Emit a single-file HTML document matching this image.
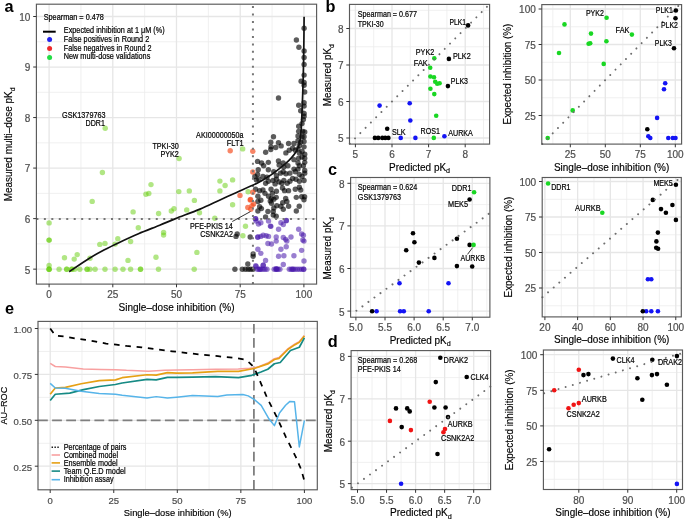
<!DOCTYPE html>
<html><head><meta charset="utf-8"><style>
html,body{margin:0;padding:0;background:#fff;}
svg{display:block;font-family:"Liberation Sans",sans-serif;will-change:transform;}
</style></head><body>
<svg width="685" height="519" viewBox="0 0 685 519">
<rect width="685" height="519" fill="#fff"/>
<text x="4.6" y="11.8" font-size="16.3" text-anchor="start" fill="#000" font-weight="bold">a</text>
<text x="325.4" y="11.8" font-size="16.3" text-anchor="start" fill="#000" font-weight="bold">b</text>
<text x="327.9" y="174.9" font-size="16.3" text-anchor="start" fill="#000" font-weight="bold">c</text>
<text x="327.7" y="346.8" font-size="16.3" text-anchor="start" fill="#000" font-weight="bold">d</text>
<text x="5.1" y="313.5" font-size="16.3" text-anchor="start" fill="#000" font-weight="bold">e</text>
<line x1="80.95" y1="4.2" x2="80.95" y2="284.1" stroke="#ECECEC" stroke-width="0.8"/>
<line x1="144.65" y1="4.2" x2="144.65" y2="284.1" stroke="#ECECEC" stroke-width="0.8"/>
<line x1="208.35" y1="4.2" x2="208.35" y2="284.1" stroke="#ECECEC" stroke-width="0.8"/>
<line x1="272.05" y1="4.2" x2="272.05" y2="284.1" stroke="#ECECEC" stroke-width="0.8"/>
<line x1="36.4" y1="243.88" x2="316.6" y2="243.88" stroke="#ECECEC" stroke-width="0.8"/>
<line x1="36.4" y1="193.35" x2="316.6" y2="193.35" stroke="#ECECEC" stroke-width="0.8"/>
<line x1="36.4" y1="142.82" x2="316.6" y2="142.82" stroke="#ECECEC" stroke-width="0.8"/>
<line x1="36.4" y1="92.29" x2="316.6" y2="92.29" stroke="#ECECEC" stroke-width="0.8"/>
<line x1="36.4" y1="41.76" x2="316.6" y2="41.76" stroke="#ECECEC" stroke-width="0.8"/>
<line x1="49.1" y1="4.2" x2="49.1" y2="284.1" stroke="#E6E6E6" stroke-width="1.3"/>
<line x1="112.8" y1="4.2" x2="112.8" y2="284.1" stroke="#E6E6E6" stroke-width="1.3"/>
<line x1="176.5" y1="4.2" x2="176.5" y2="284.1" stroke="#E6E6E6" stroke-width="1.3"/>
<line x1="240.2" y1="4.2" x2="240.2" y2="284.1" stroke="#E6E6E6" stroke-width="1.3"/>
<line x1="303.9" y1="4.2" x2="303.9" y2="284.1" stroke="#E6E6E6" stroke-width="1.3"/>
<line x1="36.4" y1="269.15" x2="316.6" y2="269.15" stroke="#E6E6E6" stroke-width="1.3"/>
<line x1="36.4" y1="218.62" x2="316.6" y2="218.62" stroke="#E6E6E6" stroke-width="1.3"/>
<line x1="36.4" y1="168.09" x2="316.6" y2="168.09" stroke="#E6E6E6" stroke-width="1.3"/>
<line x1="36.4" y1="117.56" x2="316.6" y2="117.56" stroke="#E6E6E6" stroke-width="1.3"/>
<line x1="36.4" y1="67.03" x2="316.6" y2="67.03" stroke="#E6E6E6" stroke-width="1.3"/>
<line x1="36.4" y1="16.5" x2="316.6" y2="16.5" stroke="#E6E6E6" stroke-width="1.3"/>
<circle cx="49.1" cy="222.9" r="2.7" fill="rgb(100,205,10)" fill-opacity="0.5"/>
<circle cx="49.1" cy="240.1" r="2.7" fill="rgb(100,205,10)" fill-opacity="0.5"/>
<circle cx="49.1" cy="240.1" r="2.7" fill="rgb(100,205,10)" fill-opacity="0.5"/>
<circle cx="49.1" cy="265.5" r="2.7" fill="rgb(100,205,10)" fill-opacity="0.5"/>
<circle cx="49.1" cy="269.3" r="2.7" fill="rgb(100,205,10)" fill-opacity="0.5"/>
<circle cx="49.1" cy="269.3" r="2.7" fill="rgb(100,205,10)" fill-opacity="0.5"/>
<circle cx="49.1" cy="269.3" r="2.7" fill="rgb(100,205,10)" fill-opacity="0.5"/>
<circle cx="64.5" cy="257.7" r="2.7" fill="rgb(100,205,10)" fill-opacity="0.5"/>
<circle cx="77.2" cy="254.6" r="2.7" fill="rgb(100,205,10)" fill-opacity="0.5"/>
<circle cx="74.2" cy="259.1" r="2.7" fill="rgb(100,205,10)" fill-opacity="0.5"/>
<circle cx="59.1" cy="269.3" r="2.7" fill="rgb(100,205,10)" fill-opacity="0.5"/>
<circle cx="66.7" cy="269.3" r="2.7" fill="rgb(100,205,10)" fill-opacity="0.5"/>
<circle cx="66.7" cy="269.3" r="2.7" fill="rgb(100,205,10)" fill-opacity="0.5"/>
<circle cx="71.8" cy="269.3" r="2.7" fill="rgb(100,205,10)" fill-opacity="0.5"/>
<circle cx="71.8" cy="269.3" r="2.7" fill="rgb(100,205,10)" fill-opacity="0.5"/>
<circle cx="74.7" cy="269.3" r="2.7" fill="rgb(100,205,10)" fill-opacity="0.5"/>
<circle cx="79.8" cy="269.3" r="2.7" fill="rgb(100,205,10)" fill-opacity="0.5"/>
<circle cx="87.1" cy="269.3" r="2.7" fill="rgb(100,205,10)" fill-opacity="0.5"/>
<circle cx="87.1" cy="269.3" r="2.7" fill="rgb(100,205,10)" fill-opacity="0.5"/>
<circle cx="90" cy="269.3" r="2.7" fill="rgb(100,205,10)" fill-opacity="0.5"/>
<circle cx="95.1" cy="269.3" r="2.7" fill="rgb(100,205,10)" fill-opacity="0.5"/>
<circle cx="90" cy="258.2" r="2.7" fill="rgb(100,205,10)" fill-opacity="0.5"/>
<circle cx="99.8" cy="244.4" r="2.7" fill="rgb(100,205,10)" fill-opacity="0.5"/>
<circle cx="105" cy="243.4" r="2.7" fill="rgb(100,205,10)" fill-opacity="0.5"/>
<circle cx="115.1" cy="244.1" r="2.7" fill="rgb(100,205,10)" fill-opacity="0.5"/>
<circle cx="117.8" cy="238.7" r="2.7" fill="rgb(100,205,10)" fill-opacity="0.5"/>
<circle cx="130.6" cy="241.5" r="2.7" fill="rgb(100,205,10)" fill-opacity="0.5"/>
<circle cx="128" cy="260.4" r="2.7" fill="rgb(100,205,10)" fill-opacity="0.5"/>
<circle cx="105" cy="269.3" r="2.7" fill="rgb(100,205,10)" fill-opacity="0.5"/>
<circle cx="115.1" cy="269.3" r="2.7" fill="rgb(100,205,10)" fill-opacity="0.5"/>
<circle cx="123" cy="269.3" r="2.7" fill="rgb(100,205,10)" fill-opacity="0.5"/>
<circle cx="130.6" cy="269.3" r="2.7" fill="rgb(100,205,10)" fill-opacity="0.5"/>
<circle cx="102.4" cy="172.5" r="2.7" fill="rgb(100,205,10)" fill-opacity="0.5"/>
<circle cx="92.2" cy="201.4" r="2.7" fill="rgb(100,205,10)" fill-opacity="0.5"/>
<circle cx="133.1" cy="211.9" r="2.7" fill="rgb(100,205,10)" fill-opacity="0.5"/>
<circle cx="105.2" cy="128.2" r="2.7" fill="rgb(100,205,10)" fill-opacity="0.5"/>
<circle cx="179.1" cy="158.5" r="2.7" fill="rgb(100,205,10)" fill-opacity="0.5"/>
<circle cx="151" cy="184.6" r="2.7" fill="rgb(100,205,10)" fill-opacity="0.5"/>
<circle cx="145.9" cy="194.2" r="2.7" fill="rgb(100,205,10)" fill-opacity="0.5"/>
<circle cx="148.8" cy="193.5" r="2.7" fill="rgb(100,205,10)" fill-opacity="0.5"/>
<circle cx="178.8" cy="191.6" r="2.7" fill="rgb(100,205,10)" fill-opacity="0.5"/>
<circle cx="189.3" cy="190.9" r="2.7" fill="rgb(100,205,10)" fill-opacity="0.5"/>
<circle cx="194.4" cy="200.4" r="2.7" fill="rgb(100,205,10)" fill-opacity="0.5"/>
<circle cx="158.6" cy="213.5" r="2.7" fill="rgb(100,205,10)" fill-opacity="0.5"/>
<circle cx="171.3" cy="211" r="2.7" fill="rgb(100,205,10)" fill-opacity="0.5"/>
<circle cx="174" cy="208.7" r="2.7" fill="rgb(100,205,10)" fill-opacity="0.5"/>
<circle cx="186.7" cy="209.9" r="2.7" fill="rgb(100,205,10)" fill-opacity="0.5"/>
<circle cx="199.5" cy="212.8" r="2.7" fill="rgb(100,205,10)" fill-opacity="0.5"/>
<circle cx="219.9" cy="181.1" r="2.7" fill="rgb(100,205,10)" fill-opacity="0.5"/>
<circle cx="225.1" cy="185.5" r="2.7" fill="rgb(100,205,10)" fill-opacity="0.5"/>
<circle cx="219.9" cy="190.9" r="2.7" fill="rgb(100,205,10)" fill-opacity="0.5"/>
<circle cx="232.6" cy="179.9" r="2.7" fill="rgb(100,205,10)" fill-opacity="0.5"/>
<circle cx="232.6" cy="204.7" r="2.7" fill="rgb(100,205,10)" fill-opacity="0.5"/>
<circle cx="214.8" cy="218.3" r="2.7" fill="rgb(100,205,10)" fill-opacity="0.5"/>
<circle cx="138.3" cy="227.7" r="2.7" fill="rgb(100,205,10)" fill-opacity="0.5"/>
<circle cx="163.6" cy="232.5" r="2.7" fill="rgb(100,205,10)" fill-opacity="0.5"/>
<circle cx="163.6" cy="235.1" r="2.7" fill="rgb(100,205,10)" fill-opacity="0.5"/>
<circle cx="156" cy="257.3" r="2.7" fill="rgb(100,205,10)" fill-opacity="0.5"/>
<circle cx="196.9" cy="252.4" r="2.7" fill="rgb(100,205,10)" fill-opacity="0.5"/>
<circle cx="140.5" cy="269.3" r="2.7" fill="rgb(100,205,10)" fill-opacity="0.5"/>
<circle cx="140.5" cy="269.3" r="2.7" fill="rgb(100,205,10)" fill-opacity="0.5"/>
<circle cx="158.5" cy="269.3" r="2.7" fill="rgb(100,205,10)" fill-opacity="0.5"/>
<circle cx="194.2" cy="269.3" r="2.7" fill="rgb(100,205,10)" fill-opacity="0.5"/>
<circle cx="242.7" cy="148.9" r="2.7" fill="rgb(100,205,10)" fill-opacity="0.5"/>
<circle cx="248.1" cy="191.7" r="2.7" fill="rgb(100,205,10)" fill-opacity="0.5"/>
<circle cx="245.5" cy="226.3" r="2.7" fill="rgb(100,205,10)" fill-opacity="0.5"/>
<circle cx="242.9" cy="235.8" r="2.7" fill="rgb(100,205,10)" fill-opacity="0.5"/>
<circle cx="304.1" cy="28.3" r="2.7" fill="#000" fill-opacity="0.64"/>
<circle cx="296.4" cy="40" r="2.7" fill="#000" fill-opacity="0.64"/>
<circle cx="298.9" cy="47.2" r="2.7" fill="#000" fill-opacity="0.64"/>
<circle cx="304.1" cy="50.9" r="2.7" fill="#000" fill-opacity="0.64"/>
<circle cx="304.1" cy="57.5" r="2.7" fill="#000" fill-opacity="0.64"/>
<circle cx="304.1" cy="64.4" r="2.7" fill="#000" fill-opacity="0.64"/>
<circle cx="304.1" cy="75.1" r="2.7" fill="#000" fill-opacity="0.64"/>
<circle cx="301.1" cy="81.2" r="2.7" fill="#000" fill-opacity="0.64"/>
<circle cx="304.1" cy="82.5" r="2.7" fill="#000" fill-opacity="0.64"/>
<circle cx="304.1" cy="85.2" r="2.7" fill="#000" fill-opacity="0.64"/>
<circle cx="304.7" cy="92" r="2.7" fill="#000" fill-opacity="0.64"/>
<circle cx="278.5" cy="98" r="2.7" fill="#000" fill-opacity="0.64"/>
<circle cx="304.1" cy="102.7" r="2.7" fill="#000" fill-opacity="0.64"/>
<circle cx="298.7" cy="105.2" r="2.7" fill="#000" fill-opacity="0.64"/>
<circle cx="304.1" cy="106.1" r="2.7" fill="#000" fill-opacity="0.64"/>
<circle cx="300.7" cy="110.8" r="2.7" fill="#000" fill-opacity="0.64"/>
<circle cx="304.1" cy="113.5" r="2.7" fill="#000" fill-opacity="0.64"/>
<circle cx="304.1" cy="116.2" r="2.7" fill="#000" fill-opacity="0.64"/>
<circle cx="303.4" cy="119.6" r="2.7" fill="#000" fill-opacity="0.64"/>
<circle cx="298.7" cy="126.3" r="2.7" fill="#000" fill-opacity="0.64"/>
<circle cx="302" cy="123.6" r="2.7" fill="#000" fill-opacity="0.64"/>
<circle cx="298.67" cy="131.35" r="2.7" fill="#000" fill-opacity="0.64"/>
<circle cx="302.71" cy="131.35" r="2.7" fill="#000" fill-opacity="0.64"/>
<circle cx="304.73" cy="132.02" r="2.7" fill="#000" fill-opacity="0.64"/>
<circle cx="297.99" cy="136.06" r="2.7" fill="#000" fill-opacity="0.64"/>
<circle cx="302.04" cy="136.74" r="2.7" fill="#000" fill-opacity="0.64"/>
<circle cx="304.06" cy="136.74" r="2.7" fill="#000" fill-opacity="0.64"/>
<circle cx="273.47" cy="136.74" r="2.7" fill="#000" fill-opacity="0.64"/>
<circle cx="270.77" cy="142.13" r="2.7" fill="#000" fill-opacity="0.64"/>
<circle cx="278.45" cy="142.8" r="2.7" fill="#000" fill-opacity="0.64"/>
<circle cx="281.15" cy="145.9" r="2.7" fill="#000" fill-opacity="0.64"/>
<circle cx="288.56" cy="143.48" r="2.7" fill="#000" fill-opacity="0.64"/>
<circle cx="293.95" cy="143.48" r="2.7" fill="#000" fill-opacity="0.64"/>
<circle cx="297.99" cy="140.78" r="2.7" fill="#000" fill-opacity="0.64"/>
<circle cx="300.69" cy="142.13" r="2.7" fill="#000" fill-opacity="0.64"/>
<circle cx="304.06" cy="141.46" r="2.7" fill="#000" fill-opacity="0.64"/>
<circle cx="271.04" cy="146.85" r="2.7" fill="#000" fill-opacity="0.64"/>
<circle cx="275.76" cy="147.52" r="2.7" fill="#000" fill-opacity="0.64"/>
<circle cx="304.06" cy="146.85" r="2.7" fill="#000" fill-opacity="0.64"/>
<circle cx="299.34" cy="145.5" r="2.7" fill="#000" fill-opacity="0.64"/>
<circle cx="265.65" cy="152.24" r="2.7" fill="#000" fill-opacity="0.64"/>
<circle cx="285.87" cy="152.91" r="2.7" fill="#000" fill-opacity="0.64"/>
<circle cx="289.23" cy="150.22" r="2.7" fill="#000" fill-opacity="0.64"/>
<circle cx="292.6" cy="148.19" r="2.7" fill="#000" fill-opacity="0.64"/>
<circle cx="295.3" cy="150.22" r="2.7" fill="#000" fill-opacity="0.64"/>
<circle cx="297.99" cy="148.87" r="2.7" fill="#000" fill-opacity="0.64"/>
<circle cx="302.04" cy="151.56" r="2.7" fill="#000" fill-opacity="0.64"/>
<circle cx="304.73" cy="154.26" r="2.7" fill="#000" fill-opacity="0.64"/>
<circle cx="270.77" cy="149.54" r="2.7" fill="#000" fill-opacity="0.64"/>
<circle cx="299.34" cy="152.91" r="2.7" fill="#000" fill-opacity="0.64"/>
<circle cx="257.56" cy="161.4" r="2.7" fill="#000" fill-opacity="0.64"/>
<circle cx="261.61" cy="163.02" r="2.7" fill="#000" fill-opacity="0.64"/>
<circle cx="263.63" cy="165.71" r="2.7" fill="#000" fill-opacity="0.64"/>
<circle cx="268.35" cy="162.35" r="2.7" fill="#000" fill-opacity="0.64"/>
<circle cx="278.45" cy="161" r="2.7" fill="#000" fill-opacity="0.64"/>
<circle cx="283.17" cy="163.02" r="2.7" fill="#000" fill-opacity="0.64"/>
<circle cx="293.95" cy="159.65" r="2.7" fill="#000" fill-opacity="0.64"/>
<circle cx="298.67" cy="158.3" r="2.7" fill="#000" fill-opacity="0.64"/>
<circle cx="302.04" cy="156.95" r="2.7" fill="#000" fill-opacity="0.64"/>
<circle cx="304.73" cy="158.3" r="2.7" fill="#000" fill-opacity="0.64"/>
<circle cx="304.73" cy="162.35" r="2.7" fill="#000" fill-opacity="0.64"/>
<circle cx="297.99" cy="163.02" r="2.7" fill="#000" fill-opacity="0.64"/>
<circle cx="258.24" cy="169.76" r="2.7" fill="#000" fill-opacity="0.64"/>
<circle cx="268.35" cy="169.76" r="2.7" fill="#000" fill-opacity="0.64"/>
<circle cx="279.13" cy="165.04" r="2.7" fill="#000" fill-opacity="0.64"/>
<circle cx="283.84" cy="167.06" r="2.7" fill="#000" fill-opacity="0.64"/>
<circle cx="287.89" cy="165.71" r="2.7" fill="#000" fill-opacity="0.64"/>
<circle cx="299.34" cy="165.71" r="2.7" fill="#000" fill-opacity="0.64"/>
<circle cx="303.39" cy="165.71" r="2.7" fill="#000" fill-opacity="0.64"/>
<circle cx="304.73" cy="170.43" r="2.7" fill="#000" fill-opacity="0.64"/>
<circle cx="297.99" cy="169.08" r="2.7" fill="#000" fill-opacity="0.64"/>
<circle cx="293.95" cy="169.08" r="2.7" fill="#000" fill-opacity="0.64"/>
<circle cx="254.87" cy="176.5" r="2.7" fill="#000" fill-opacity="0.64"/>
<circle cx="257.56" cy="174.47" r="2.7" fill="#000" fill-opacity="0.64"/>
<circle cx="262.95" cy="176.5" r="2.7" fill="#000" fill-opacity="0.64"/>
<circle cx="267" cy="177.17" r="2.7" fill="#000" fill-opacity="0.64"/>
<circle cx="273.74" cy="171.78" r="2.7" fill="#000" fill-opacity="0.64"/>
<circle cx="276.43" cy="175.82" r="2.7" fill="#000" fill-opacity="0.64"/>
<circle cx="280.47" cy="173.13" r="2.7" fill="#000" fill-opacity="0.64"/>
<circle cx="283.17" cy="171.78" r="2.7" fill="#000" fill-opacity="0.64"/>
<circle cx="285.87" cy="173.8" r="2.7" fill="#000" fill-opacity="0.64"/>
<circle cx="289.91" cy="173.13" r="2.7" fill="#000" fill-opacity="0.64"/>
<circle cx="295.3" cy="171.78" r="2.7" fill="#000" fill-opacity="0.64"/>
<circle cx="299.34" cy="174.47" r="2.7" fill="#000" fill-opacity="0.64"/>
<circle cx="304.73" cy="173.13" r="2.7" fill="#000" fill-opacity="0.64"/>
<circle cx="302.04" cy="176.5" r="2.7" fill="#000" fill-opacity="0.64"/>
<circle cx="256.22" cy="179.87" r="2.7" fill="#000" fill-opacity="0.64"/>
<circle cx="258.91" cy="179.19" r="2.7" fill="#000" fill-opacity="0.64"/>
<circle cx="265.65" cy="183.23" r="2.7" fill="#000" fill-opacity="0.64"/>
<circle cx="268.35" cy="181.21" r="2.7" fill="#000" fill-opacity="0.64"/>
<circle cx="273.06" cy="180.54" r="2.7" fill="#000" fill-opacity="0.64"/>
<circle cx="276.43" cy="179.19" r="2.7" fill="#000" fill-opacity="0.64"/>
<circle cx="279.13" cy="181.89" r="2.7" fill="#000" fill-opacity="0.64"/>
<circle cx="281.82" cy="183.23" r="2.7" fill="#000" fill-opacity="0.64"/>
<circle cx="283.84" cy="180.54" r="2.7" fill="#000" fill-opacity="0.64"/>
<circle cx="287.21" cy="183.23" r="2.7" fill="#000" fill-opacity="0.64"/>
<circle cx="289.91" cy="181.21" r="2.7" fill="#000" fill-opacity="0.64"/>
<circle cx="292.6" cy="178.52" r="2.7" fill="#000" fill-opacity="0.64"/>
<circle cx="295.97" cy="179.19" r="2.7" fill="#000" fill-opacity="0.64"/>
<circle cx="299.34" cy="181.21" r="2.7" fill="#000" fill-opacity="0.64"/>
<circle cx="304.06" cy="180.54" r="2.7" fill="#000" fill-opacity="0.64"/>
<circle cx="275.08" cy="183.91" r="2.7" fill="#000" fill-opacity="0.64"/>
<circle cx="255.54" cy="189.3" r="2.7" fill="#000" fill-opacity="0.64"/>
<circle cx="259.58" cy="190.65" r="2.7" fill="#000" fill-opacity="0.64"/>
<circle cx="262.95" cy="189.97" r="2.7" fill="#000" fill-opacity="0.64"/>
<circle cx="264.98" cy="193.34" r="2.7" fill="#000" fill-opacity="0.64"/>
<circle cx="271.04" cy="189.3" r="2.7" fill="#000" fill-opacity="0.64"/>
<circle cx="272.39" cy="193.34" r="2.7" fill="#000" fill-opacity="0.64"/>
<circle cx="276.43" cy="191.32" r="2.7" fill="#000" fill-opacity="0.64"/>
<circle cx="282.5" cy="187.95" r="2.7" fill="#000" fill-opacity="0.64"/>
<circle cx="284.52" cy="190.65" r="2.7" fill="#000" fill-opacity="0.64"/>
<circle cx="288.56" cy="190.65" r="2.7" fill="#000" fill-opacity="0.64"/>
<circle cx="295.3" cy="189.3" r="2.7" fill="#000" fill-opacity="0.64"/>
<circle cx="299.34" cy="187.28" r="2.7" fill="#000" fill-opacity="0.64"/>
<circle cx="300.69" cy="189.97" r="2.7" fill="#000" fill-opacity="0.64"/>
<circle cx="257.88" cy="196.18" r="2.7" fill="#000" fill-opacity="0.64"/>
<circle cx="260.83" cy="200.32" r="2.7" fill="#000" fill-opacity="0.64"/>
<circle cx="257.88" cy="201.5" r="2.7" fill="#000" fill-opacity="0.64"/>
<circle cx="259.65" cy="206.82" r="2.7" fill="#000" fill-opacity="0.64"/>
<circle cx="261.42" cy="208.6" r="2.7" fill="#000" fill-opacity="0.64"/>
<circle cx="257.88" cy="210.96" r="2.7" fill="#000" fill-opacity="0.64"/>
<circle cx="267.93" cy="211.55" r="2.7" fill="#000" fill-opacity="0.64"/>
<circle cx="265.56" cy="216.88" r="2.7" fill="#000" fill-opacity="0.64"/>
<circle cx="268.52" cy="196.18" r="2.7" fill="#000" fill-opacity="0.64"/>
<circle cx="271.47" cy="198.55" r="2.7" fill="#000" fill-opacity="0.64"/>
<circle cx="273.84" cy="199.14" r="2.7" fill="#000" fill-opacity="0.64"/>
<circle cx="270.29" cy="200.91" r="2.7" fill="#000" fill-opacity="0.64"/>
<circle cx="271.47" cy="203.28" r="2.7" fill="#000" fill-opacity="0.64"/>
<circle cx="276.2" cy="197.36" r="2.7" fill="#000" fill-opacity="0.64"/>
<circle cx="276.79" cy="205.64" r="2.7" fill="#000" fill-opacity="0.64"/>
<circle cx="273.84" cy="208.01" r="2.7" fill="#000" fill-opacity="0.64"/>
<circle cx="273.25" cy="211.55" r="2.7" fill="#000" fill-opacity="0.64"/>
<circle cx="273.25" cy="215.1" r="2.7" fill="#000" fill-opacity="0.64"/>
<circle cx="276.2" cy="216.28" r="2.7" fill="#000" fill-opacity="0.64"/>
<circle cx="280.93" cy="206.23" r="2.7" fill="#000" fill-opacity="0.64"/>
<circle cx="283.3" cy="209.19" r="2.7" fill="#000" fill-opacity="0.64"/>
<circle cx="282.71" cy="202.69" r="2.7" fill="#000" fill-opacity="0.64"/>
<circle cx="285.66" cy="198.55" r="2.7" fill="#000" fill-opacity="0.64"/>
<circle cx="286.85" cy="201.5" r="2.7" fill="#000" fill-opacity="0.64"/>
<circle cx="288.62" cy="206.23" r="2.7" fill="#000" fill-opacity="0.64"/>
<circle cx="296.31" cy="197.36" r="2.7" fill="#000" fill-opacity="0.64"/>
<circle cx="296.31" cy="210.96" r="2.7" fill="#000" fill-opacity="0.64"/>
<circle cx="299.26" cy="206.23" r="2.7" fill="#000" fill-opacity="0.64"/>
<circle cx="301.63" cy="196.77" r="2.7" fill="#000" fill-opacity="0.64"/>
<circle cx="303.99" cy="199.73" r="2.7" fill="#000" fill-opacity="0.64"/>
<circle cx="304.58" cy="196.77" r="2.7" fill="#000" fill-opacity="0.64"/>
<circle cx="250.19" cy="236.98" r="2.7" fill="#000" fill-opacity="0.64"/>
<circle cx="237.18" cy="234.02" r="2.7" fill="#000" fill-opacity="0.64"/>
<circle cx="236" cy="236.39" r="2.7" fill="#000" fill-opacity="0.64"/>
<circle cx="234.9" cy="269.3" r="2.7" fill="#000" fill-opacity="0.64"/>
<circle cx="242.3" cy="269.3" r="2.7" fill="#000" fill-opacity="0.64"/>
<circle cx="245.4" cy="269.3" r="2.7" fill="#000" fill-opacity="0.64"/>
<circle cx="248.2" cy="269.3" r="2.7" fill="#000" fill-opacity="0.64"/>
<circle cx="250.6" cy="269.3" r="2.7" fill="#000" fill-opacity="0.64"/>
<circle cx="253" cy="269.3" r="2.7" fill="#000" fill-opacity="0.64"/>
<circle cx="253.15" cy="253.92" r="2.7" fill="#000" fill-opacity="0.64"/>
<circle cx="253.15" cy="256.28" r="2.7" fill="#000" fill-opacity="0.64"/>
<circle cx="247.82" cy="263.97" r="2.7" fill="#000" fill-opacity="0.64"/>
<circle cx="255.51" cy="218.65" r="2.7" fill="rgb(70,20,170)" fill-opacity="0.55"/>
<circle cx="256.1" cy="221.01" r="2.7" fill="rgb(70,20,170)" fill-opacity="0.55"/>
<circle cx="258.47" cy="223.97" r="2.7" fill="rgb(70,20,170)" fill-opacity="0.55"/>
<circle cx="260.83" cy="222.79" r="2.7" fill="rgb(70,20,170)" fill-opacity="0.55"/>
<circle cx="268.52" cy="221.01" r="2.7" fill="rgb(70,20,170)" fill-opacity="0.55"/>
<circle cx="270.88" cy="226.33" r="2.7" fill="rgb(70,20,170)" fill-opacity="0.55"/>
<circle cx="280.93" cy="222.79" r="2.7" fill="rgb(70,20,170)" fill-opacity="0.55"/>
<circle cx="283.3" cy="224.56" r="2.7" fill="rgb(70,20,170)" fill-opacity="0.55"/>
<circle cx="286.25" cy="220.42" r="2.7" fill="rgb(70,20,170)" fill-opacity="0.55"/>
<circle cx="278.57" cy="229.29" r="2.7" fill="rgb(70,20,170)" fill-opacity="0.55"/>
<circle cx="298.67" cy="229.29" r="2.7" fill="rgb(70,20,170)" fill-opacity="0.55"/>
<circle cx="301.63" cy="234.02" r="2.7" fill="rgb(70,20,170)" fill-opacity="0.55"/>
<circle cx="303.4" cy="235.2" r="2.7" fill="rgb(70,20,170)" fill-opacity="0.55"/>
<circle cx="302.81" cy="239.93" r="2.7" fill="rgb(70,20,170)" fill-opacity="0.55"/>
<circle cx="303.99" cy="241.12" r="2.7" fill="rgb(70,20,170)" fill-opacity="0.55"/>
<circle cx="257.88" cy="236.98" r="2.7" fill="rgb(70,20,170)" fill-opacity="0.55"/>
<circle cx="260.83" cy="236.39" r="2.7" fill="rgb(70,20,170)" fill-opacity="0.55"/>
<circle cx="263.2" cy="235.2" r="2.7" fill="rgb(70,20,170)" fill-opacity="0.55"/>
<circle cx="266.15" cy="235.79" r="2.7" fill="rgb(70,20,170)" fill-opacity="0.55"/>
<circle cx="268.52" cy="236.39" r="2.7" fill="rgb(70,20,170)" fill-opacity="0.55"/>
<circle cx="276.2" cy="236.98" r="2.7" fill="rgb(70,20,170)" fill-opacity="0.55"/>
<circle cx="276.2" cy="241.12" r="2.7" fill="rgb(70,20,170)" fill-opacity="0.55"/>
<circle cx="283.3" cy="237.57" r="2.7" fill="rgb(70,20,170)" fill-opacity="0.55"/>
<circle cx="285.66" cy="239.34" r="2.7" fill="rgb(70,20,170)" fill-opacity="0.55"/>
<circle cx="290.98" cy="236.98" r="2.7" fill="rgb(70,20,170)" fill-opacity="0.55"/>
<circle cx="286.85" cy="241.12" r="2.7" fill="rgb(70,20,170)" fill-opacity="0.55"/>
<circle cx="267.93" cy="243.48" r="2.7" fill="rgb(70,20,170)" fill-opacity="0.55"/>
<circle cx="271.47" cy="244.07" r="2.7" fill="rgb(70,20,170)" fill-opacity="0.55"/>
<circle cx="257.88" cy="249.19" r="2.7" fill="rgb(70,20,170)" fill-opacity="0.55"/>
<circle cx="260.83" cy="253.33" r="2.7" fill="rgb(70,20,170)" fill-opacity="0.55"/>
<circle cx="280.93" cy="249.19" r="2.7" fill="rgb(70,20,170)" fill-opacity="0.55"/>
<circle cx="286.25" cy="246.82" r="2.7" fill="rgb(70,20,170)" fill-opacity="0.55"/>
<circle cx="278.57" cy="256.28" r="2.7" fill="rgb(70,20,170)" fill-opacity="0.55"/>
<circle cx="283.89" cy="255.69" r="2.7" fill="rgb(70,20,170)" fill-opacity="0.55"/>
<circle cx="293.94" cy="255.69" r="2.7" fill="rgb(70,20,170)" fill-opacity="0.55"/>
<circle cx="301.63" cy="250.37" r="2.7" fill="rgb(70,20,170)" fill-opacity="0.55"/>
<circle cx="265.56" cy="260.42" r="2.7" fill="rgb(70,20,170)" fill-opacity="0.55"/>
<circle cx="303.99" cy="261.01" r="2.7" fill="rgb(70,20,170)" fill-opacity="0.55"/>
<circle cx="263.2" cy="265.15" r="2.7" fill="rgb(70,20,170)" fill-opacity="0.55"/>
<circle cx="256.1" cy="266.33" r="2.7" fill="rgb(70,20,170)" fill-opacity="0.55"/>
<circle cx="283.3" cy="264.56" r="2.7" fill="rgb(70,20,170)" fill-opacity="0.55"/>
<circle cx="276.2" cy="268.7" r="2.7" fill="rgb(70,20,170)" fill-opacity="0.55"/>
<circle cx="257.2" cy="269.3" r="2.7" fill="rgb(70,20,170)" fill-opacity="0.55"/>
<circle cx="259" cy="269.3" r="2.7" fill="rgb(70,20,170)" fill-opacity="0.55"/>
<circle cx="261" cy="269.3" r="2.7" fill="rgb(70,20,170)" fill-opacity="0.55"/>
<circle cx="263" cy="269.3" r="2.7" fill="rgb(70,20,170)" fill-opacity="0.55"/>
<circle cx="265" cy="269.3" r="2.7" fill="rgb(70,20,170)" fill-opacity="0.55"/>
<circle cx="267" cy="269.3" r="2.7" fill="rgb(70,20,170)" fill-opacity="0.55"/>
<circle cx="260" cy="269.3" r="2.7" fill="rgb(70,20,170)" fill-opacity="0.55"/>
<circle cx="274.2" cy="269.3" r="2.7" fill="rgb(70,20,170)" fill-opacity="0.55"/>
<circle cx="276" cy="269.3" r="2.7" fill="rgb(70,20,170)" fill-opacity="0.55"/>
<circle cx="278" cy="269.3" r="2.7" fill="rgb(70,20,170)" fill-opacity="0.55"/>
<circle cx="279.9" cy="269.3" r="2.7" fill="rgb(70,20,170)" fill-opacity="0.55"/>
<circle cx="276.8" cy="269.3" r="2.7" fill="rgb(70,20,170)" fill-opacity="0.55"/>
<circle cx="289.3" cy="269.3" r="2.7" fill="rgb(70,20,170)" fill-opacity="0.55"/>
<circle cx="291.2" cy="269.3" r="2.7" fill="rgb(70,20,170)" fill-opacity="0.55"/>
<circle cx="293.2" cy="269.3" r="2.7" fill="rgb(70,20,170)" fill-opacity="0.55"/>
<circle cx="295" cy="269.3" r="2.7" fill="rgb(70,20,170)" fill-opacity="0.55"/>
<circle cx="297.2" cy="269.3" r="2.7" fill="rgb(70,20,170)" fill-opacity="0.55"/>
<circle cx="299.4" cy="269.3" r="2.7" fill="rgb(70,20,170)" fill-opacity="0.55"/>
<circle cx="301.6" cy="269.3" r="2.7" fill="rgb(70,20,170)" fill-opacity="0.55"/>
<circle cx="303.8" cy="269.3" r="2.7" fill="rgb(70,20,170)" fill-opacity="0.55"/>
<circle cx="292.5" cy="269.3" r="2.7" fill="rgb(70,20,170)" fill-opacity="0.55"/>
<circle cx="303.6" cy="269.3" r="2.7" fill="rgb(70,20,170)" fill-opacity="0.55"/>
<circle cx="255.7" cy="265.8" r="2.7" fill="rgb(70,20,170)" fill-opacity="0.55"/>
<circle cx="263.3" cy="265.3" r="2.7" fill="rgb(70,20,170)" fill-opacity="0.55"/>
<circle cx="255.6" cy="218.7" r="2.7" fill="rgb(70,20,170)" fill-opacity="0.55"/>
<circle cx="270.4" cy="226.1" r="2.7" fill="rgb(70,20,170)" fill-opacity="0.55"/>
<circle cx="286.3" cy="220.8" r="2.7" fill="rgb(70,20,170)" fill-opacity="0.55"/>
<circle cx="257.7" cy="237.2" r="2.7" fill="rgb(70,20,170)" fill-opacity="0.55"/>
<circle cx="230.2" cy="150.7" r="2.7" fill="rgb(245,75,30)" fill-opacity="0.68"/>
<circle cx="252.8" cy="151.3" r="2.7" fill="rgb(245,75,30)" fill-opacity="0.68"/>
<circle cx="252.8" cy="172" r="2.7" fill="rgb(245,75,30)" fill-opacity="0.68"/>
<circle cx="252.8" cy="192.3" r="2.7" fill="rgb(245,75,30)" fill-opacity="0.68"/>
<circle cx="240" cy="195.4" r="2.7" fill="rgb(245,75,30)" fill-opacity="0.68"/>
<circle cx="250.6" cy="199.4" r="2.7" fill="rgb(245,75,30)" fill-opacity="0.68"/>
<circle cx="250.2" cy="200" r="2.7" fill="rgb(245,75,30)" fill-opacity="0.68"/>
<circle cx="253.7" cy="203.9" r="2.7" fill="rgb(245,75,30)" fill-opacity="0.68"/>
<circle cx="247.8" cy="207.4" r="2.7" fill="rgb(245,75,30)" fill-opacity="0.68"/>
<circle cx="250.8" cy="209.2" r="2.7" fill="rgb(245,75,30)" fill-opacity="0.68"/>
<circle cx="252" cy="205.6" r="2.7" fill="rgb(245,75,30)" fill-opacity="0.68"/>
<line x1="36.4" y1="218.92" x2="316.6" y2="218.92" stroke="#767676" stroke-width="2" stroke-dasharray="2.0 5.46" stroke-linecap="butt"/>
<line x1="252.94" y1="284.1" x2="252.94" y2="4.2" stroke="#767676" stroke-width="2" stroke-dasharray="2.0 5.46" stroke-linecap="butt"/>
<path d="M69.2,271.7 C72.63,269.42 84.02,261.62 89.8,258 C95.58,254.38 98.98,252.6 103.9,250 C108.82,247.4 113.53,245.12 119.3,242.4 C125.07,239.68 131.77,236.57 138.5,233.7 C145.23,230.83 153.52,227.72 159.7,225.2 C165.88,222.68 168.88,221.28 175.6,218.6 C182.32,215.92 192.6,212.22 200,209.1 C207.4,205.98 214,202.63 220,199.9 C226,197.17 229.67,195.57 236,192.7 C242.33,189.83 252.38,185.52 258,182.7 C263.62,179.88 266.03,178.22 269.7,175.8 C273.37,173.38 277.32,170.27 280,168.2 C282.68,166.13 283.87,165.17 285.8,163.4 C287.73,161.63 290,159.37 291.6,157.6 C293.2,155.83 294.28,154.57 295.4,152.8 C296.52,151.03 297.48,149.25 298.3,147 C299.12,144.75 299.82,142.2 300.3,139.3 C300.78,136.4 300.97,132.82 301.2,129.6 C301.43,126.38 301.5,124.63 301.7,120 C301.9,115.37 302.18,107.63 302.4,101.8 C302.62,95.97 302.82,91.13 303,85 C303.18,78.87 303.35,72.5 303.5,65 C303.65,57.5 303.8,48.03 303.9,40 C304,31.97 304.07,20.67 304.1,16.8" fill="none" stroke="#111" stroke-width="1.7" stroke-linejoin="round"/>
<line x1="232.3" y1="221.5" x2="250.4" y2="211.6" stroke="#000" stroke-width="0.8"/>
<text x="105.5" y="117.5" font-size="8.2" text-anchor="end" fill="#000" font-weight="normal" textLength="43.5" lengthAdjust="spacingAndGlyphs" stroke="#000" stroke-width="0.2">GSK1379763</text>
<text x="104.9" y="125.5" font-size="8.2" text-anchor="end" fill="#000" font-weight="normal" textLength="19.3" lengthAdjust="spacingAndGlyphs" stroke="#000" stroke-width="0.2">DDR1</text>
<text x="178.9" y="148.5" font-size="8.2" text-anchor="end" fill="#000" font-weight="normal" textLength="26.5" lengthAdjust="spacingAndGlyphs" stroke="#000" stroke-width="0.2">TPKI-30</text>
<text x="178.9" y="156.5" font-size="8.2" text-anchor="end" fill="#000" font-weight="normal" textLength="18.5" lengthAdjust="spacingAndGlyphs" stroke="#000" stroke-width="0.2">PYK2</text>
<text x="243.6" y="138.4" font-size="8.2" text-anchor="end" fill="#000" font-weight="normal" textLength="47.5" lengthAdjust="spacingAndGlyphs" stroke="#000" stroke-width="0.2">AKI00000050a</text>
<text x="243.6" y="146.4" font-size="8.2" text-anchor="end" fill="#000" font-weight="normal" textLength="16.8" lengthAdjust="spacingAndGlyphs" stroke="#000" stroke-width="0.2">FLT1</text>
<text x="232.9" y="228.5" font-size="8.2" text-anchor="end" fill="#000" font-weight="normal" textLength="43" lengthAdjust="spacingAndGlyphs" stroke="#000" stroke-width="0.2">PFE-PKIS 14</text>
<text x="232.9" y="236.5" font-size="8.2" text-anchor="end" fill="#000" font-weight="normal" textLength="32.7" lengthAdjust="spacingAndGlyphs" stroke="#000" stroke-width="0.2">CSNK2A2</text>
<text x="43.7" y="19.7" font-size="8.2" text-anchor="start" fill="#000" font-weight="normal" textLength="60.2" lengthAdjust="spacingAndGlyphs" stroke="#000" stroke-width="0.2">Spearman = 0.478</text>
<line x1="43" y1="31.7" x2="55.7" y2="31.7" stroke="#000" stroke-width="2"/>
<text x="63.8" y="32.7" font-size="8.2" text-anchor="start" fill="#000" font-weight="normal" textLength="100.9" lengthAdjust="spacingAndGlyphs" stroke="#000" stroke-width="0.2">Expected inhibition at 1 μM (%)</text>
<circle cx="49.6" cy="39.4" r="2.5" fill="#2222EE"/>
<text x="63.8" y="41.8" font-size="8.2" text-anchor="start" fill="#000" font-weight="normal" textLength="85.4" lengthAdjust="spacingAndGlyphs" stroke="#000" stroke-width="0.2">False positives in Round 2</text>
<circle cx="49.6" cy="48.6" r="2.5" fill="#EE2a2a"/>
<text x="63.8" y="51.2" font-size="8.2" text-anchor="start" fill="#000" font-weight="normal" textLength="87.8" lengthAdjust="spacingAndGlyphs" stroke="#000" stroke-width="0.2">False negatives in Round 2</text>
<circle cx="49.6" cy="57.4" r="2.5" fill="#22DD44"/>
<text x="63.8" y="59.4" font-size="8.2" text-anchor="start" fill="#000" font-weight="normal" textLength="86.5" lengthAdjust="spacingAndGlyphs" stroke="#000" stroke-width="0.2">New multi-dose validations</text>
<rect x="36.4" y="4.2" width="280.2" height="279.9" fill="none" stroke="#5A5A5A" stroke-width="1.15"/>
<line x1="49.1" y1="284.1" x2="49.1" y2="287.3" stroke="#333333" stroke-width="1.0"/>
<text x="49.1" y="298.2" font-size="10" text-anchor="middle" fill="#4D4D4D" font-weight="normal" stroke="#4D4D4D" stroke-width="0.2">0</text>
<line x1="112.8" y1="284.1" x2="112.8" y2="287.3" stroke="#333333" stroke-width="1.0"/>
<text x="112.8" y="298.2" font-size="10" text-anchor="middle" fill="#4D4D4D" font-weight="normal" stroke="#4D4D4D" stroke-width="0.2">25</text>
<line x1="176.5" y1="284.1" x2="176.5" y2="287.3" stroke="#333333" stroke-width="1.0"/>
<text x="176.5" y="298.2" font-size="10" text-anchor="middle" fill="#4D4D4D" font-weight="normal" stroke="#4D4D4D" stroke-width="0.2">50</text>
<line x1="240.2" y1="284.1" x2="240.2" y2="287.3" stroke="#333333" stroke-width="1.0"/>
<text x="240.2" y="298.2" font-size="10" text-anchor="middle" fill="#4D4D4D" font-weight="normal" stroke="#4D4D4D" stroke-width="0.2">75</text>
<line x1="303.9" y1="284.1" x2="303.9" y2="287.3" stroke="#333333" stroke-width="1.0"/>
<text x="303.9" y="298.2" font-size="10" text-anchor="middle" fill="#4D4D4D" font-weight="normal" stroke="#4D4D4D" stroke-width="0.2">100</text>
<line x1="33.2" y1="269.15" x2="36.4" y2="269.15" stroke="#333333" stroke-width="1.0"/>
<text x="30.4" y="273.55" font-size="10" text-anchor="end" fill="#4D4D4D" font-weight="normal" stroke="#4D4D4D" stroke-width="0.2">5</text>
<line x1="33.2" y1="218.62" x2="36.4" y2="218.62" stroke="#333333" stroke-width="1.0"/>
<text x="30.4" y="223.02" font-size="10" text-anchor="end" fill="#4D4D4D" font-weight="normal" stroke="#4D4D4D" stroke-width="0.2">6</text>
<line x1="33.2" y1="168.09" x2="36.4" y2="168.09" stroke="#333333" stroke-width="1.0"/>
<text x="30.4" y="172.49" font-size="10" text-anchor="end" fill="#4D4D4D" font-weight="normal" stroke="#4D4D4D" stroke-width="0.2">7</text>
<line x1="33.2" y1="117.56" x2="36.4" y2="117.56" stroke="#333333" stroke-width="1.0"/>
<text x="30.4" y="121.96" font-size="10" text-anchor="end" fill="#4D4D4D" font-weight="normal" stroke="#4D4D4D" stroke-width="0.2">8</text>
<line x1="33.2" y1="67.03" x2="36.4" y2="67.03" stroke="#333333" stroke-width="1.0"/>
<text x="30.4" y="71.43" font-size="10" text-anchor="end" fill="#4D4D4D" font-weight="normal" stroke="#4D4D4D" stroke-width="0.2">9</text>
<line x1="33.2" y1="16.5" x2="36.4" y2="16.5" stroke="#333333" stroke-width="1.0"/>
<text x="30.4" y="20.9" font-size="10" text-anchor="end" fill="#4D4D4D" font-weight="normal" stroke="#4D4D4D" stroke-width="0.2">10</text>
<text transform="translate(12.1 144.35) rotate(-90)" x="0" y="0" font-size="10" text-anchor="middle" fill="#000" stroke="#000" stroke-width="0.15" textLength="114" lengthAdjust="spacingAndGlyphs">Measured multi–dose pK<tspan font-size="7.2" dy="2.8">d</tspan></text>
<text x="176.5" y="310.5" font-size="10" text-anchor="middle" fill="#000" stroke="#000" stroke-width="0.15" textLength="116" lengthAdjust="spacingAndGlyphs">Single–dose inhibition (%)</text>
<line x1="373.7" y1="4.4" x2="373.7" y2="144.1" stroke="#ECECEC" stroke-width="0.8"/>
<line x1="410.3" y1="4.4" x2="410.3" y2="144.1" stroke="#ECECEC" stroke-width="0.8"/>
<line x1="446.9" y1="4.4" x2="446.9" y2="144.1" stroke="#ECECEC" stroke-width="0.8"/>
<line x1="483.5" y1="4.4" x2="483.5" y2="144.1" stroke="#ECECEC" stroke-width="0.8"/>
<line x1="349.5" y1="119.75" x2="489.6" y2="119.75" stroke="#ECECEC" stroke-width="0.8"/>
<line x1="349.5" y1="83.25" x2="489.6" y2="83.25" stroke="#ECECEC" stroke-width="0.8"/>
<line x1="349.5" y1="46.75" x2="489.6" y2="46.75" stroke="#ECECEC" stroke-width="0.8"/>
<line x1="349.5" y1="10.25" x2="489.6" y2="10.25" stroke="#ECECEC" stroke-width="0.8"/>
<line x1="355.4" y1="4.4" x2="355.4" y2="144.1" stroke="#E6E6E6" stroke-width="1.3"/>
<line x1="392" y1="4.4" x2="392" y2="144.1" stroke="#E6E6E6" stroke-width="1.3"/>
<line x1="428.6" y1="4.4" x2="428.6" y2="144.1" stroke="#E6E6E6" stroke-width="1.3"/>
<line x1="465.2" y1="4.4" x2="465.2" y2="144.1" stroke="#E6E6E6" stroke-width="1.3"/>
<line x1="349.5" y1="138" x2="489.6" y2="138" stroke="#E6E6E6" stroke-width="1.3"/>
<line x1="349.5" y1="101.5" x2="489.6" y2="101.5" stroke="#E6E6E6" stroke-width="1.3"/>
<line x1="349.5" y1="65" x2="489.6" y2="65" stroke="#E6E6E6" stroke-width="1.3"/>
<line x1="349.5" y1="28.5" x2="489.6" y2="28.5" stroke="#E6E6E6" stroke-width="1.3"/>
<circle cx="379.6" cy="105.6" r="2.3" fill="rgb(20,20,245)"/>
<circle cx="409.7" cy="103.2" r="2.3" fill="rgb(20,20,245)"/>
<circle cx="410.3" cy="120.5" r="2.3" fill="rgb(20,20,245)"/>
<circle cx="400.7" cy="137.9" r="2.3" fill="rgb(20,20,245)"/>
<circle cx="415.4" cy="137.9" r="2.3" fill="rgb(20,20,245)"/>
<circle cx="444.4" cy="136.3" r="2.3" fill="rgb(20,20,245)"/>
<circle cx="434.3" cy="58.2" r="2.3" fill="rgb(25,215,35)"/>
<circle cx="430.2" cy="67.8" r="2.3" fill="rgb(25,215,35)"/>
<circle cx="430.4" cy="76.5" r="2.3" fill="rgb(25,215,35)"/>
<circle cx="434" cy="77.3" r="2.3" fill="rgb(25,215,35)"/>
<circle cx="435.2" cy="81.8" r="2.3" fill="rgb(25,215,35)"/>
<circle cx="437.2" cy="83.7" r="2.3" fill="rgb(25,215,35)"/>
<circle cx="439.6" cy="83.2" r="2.3" fill="rgb(25,215,35)"/>
<circle cx="430.4" cy="88.7" r="2.3" fill="rgb(25,215,35)"/>
<circle cx="434.3" cy="94.1" r="2.3" fill="rgb(25,215,35)"/>
<circle cx="436.2" cy="115.8" r="2.3" fill="rgb(25,215,35)"/>
<circle cx="433.8" cy="137.9" r="2.3" fill="rgb(25,215,35)"/>
<circle cx="468.1" cy="25.4" r="2.3" fill="#000"/>
<circle cx="448.9" cy="58.9" r="2.3" fill="#000"/>
<circle cx="447.9" cy="86.1" r="2.3" fill="#000"/>
<circle cx="387.2" cy="128.7" r="2.3" fill="#000"/>
<circle cx="374.9" cy="137.9" r="2.3" fill="#000"/>
<circle cx="378.2" cy="137.9" r="2.3" fill="#000"/>
<circle cx="382.3" cy="137.9" r="2.3" fill="#000"/>
<circle cx="385.2" cy="137.9" r="2.3" fill="#000"/>
<circle cx="388.4" cy="137.9" r="2.3" fill="#000"/>
<line x1="349.54" y1="143.84" x2="489.37" y2="4.39" stroke="#6E6E6E" stroke-width="2" stroke-dasharray="0.01 7.44" stroke-dashoffset="7.12" stroke-linecap="round"/>
<text x="357.8" y="17.3" font-size="8.2" text-anchor="start" fill="#000" font-weight="normal" textLength="59.2" lengthAdjust="spacingAndGlyphs" stroke="#000" stroke-width="0.2">Spearman = 0.677</text>
<text x="357.8" y="26.5" font-size="8.2" text-anchor="start" fill="#000" font-weight="normal" textLength="25.9" lengthAdjust="spacingAndGlyphs" stroke="#000" stroke-width="0.2">TPKI-30</text>
<text x="449.5" y="25.4" font-size="8.2" text-anchor="start" fill="#000" font-weight="normal" textLength="16.6" lengthAdjust="spacingAndGlyphs" stroke="#000" stroke-width="0.2">PLK1</text>
<text x="453" y="58.5" font-size="8.2" text-anchor="start" fill="#000" font-weight="normal" textLength="17.7" lengthAdjust="spacingAndGlyphs" stroke="#000" stroke-width="0.2">PLK2</text>
<text x="434.2" y="55" font-size="8.2" text-anchor="end" fill="#000" font-weight="normal" textLength="18.4" lengthAdjust="spacingAndGlyphs" stroke="#000" stroke-width="0.2">PYK2</text>
<text x="427.7" y="66.3" font-size="8.2" text-anchor="end" fill="#000" font-weight="normal" textLength="13.9" lengthAdjust="spacingAndGlyphs" stroke="#000" stroke-width="0.2">FAK</text>
<text x="450.8" y="84.2" font-size="8.2" text-anchor="start" fill="#000" font-weight="normal" textLength="17.2" lengthAdjust="spacingAndGlyphs" stroke="#000" stroke-width="0.2">PLK3</text>
<text x="391.9" y="134.9" font-size="8.2" text-anchor="start" fill="#000" font-weight="normal" textLength="13.7" lengthAdjust="spacingAndGlyphs" stroke="#000" stroke-width="0.2">SLK</text>
<text x="420.5" y="134.2" font-size="8.2" text-anchor="start" fill="#000" font-weight="normal" textLength="19.4" lengthAdjust="spacingAndGlyphs" stroke="#000" stroke-width="0.2">ROS1</text>
<text x="448.2" y="136.4" font-size="8.2" text-anchor="start" fill="#000" font-weight="normal" textLength="24.7" lengthAdjust="spacingAndGlyphs" stroke="#000" stroke-width="0.2">AURKA</text>
<rect x="349.5" y="4.4" width="140.1" height="139.7" fill="none" stroke="#5A5A5A" stroke-width="1.15"/>
<line x1="355.4" y1="144.1" x2="355.4" y2="147.3" stroke="#333333" stroke-width="1.0"/>
<text x="355.4" y="158.2" font-size="10" text-anchor="middle" fill="#4D4D4D" font-weight="normal" stroke="#4D4D4D" stroke-width="0.2">5</text>
<line x1="392" y1="144.1" x2="392" y2="147.3" stroke="#333333" stroke-width="1.0"/>
<text x="392" y="158.2" font-size="10" text-anchor="middle" fill="#4D4D4D" font-weight="normal" stroke="#4D4D4D" stroke-width="0.2">6</text>
<line x1="428.6" y1="144.1" x2="428.6" y2="147.3" stroke="#333333" stroke-width="1.0"/>
<text x="428.6" y="158.2" font-size="10" text-anchor="middle" fill="#4D4D4D" font-weight="normal" stroke="#4D4D4D" stroke-width="0.2">7</text>
<line x1="465.2" y1="144.1" x2="465.2" y2="147.3" stroke="#333333" stroke-width="1.0"/>
<text x="465.2" y="158.2" font-size="10" text-anchor="middle" fill="#4D4D4D" font-weight="normal" stroke="#4D4D4D" stroke-width="0.2">8</text>
<line x1="346.3" y1="138" x2="349.5" y2="138" stroke="#333333" stroke-width="1.0"/>
<text x="343.5" y="142.4" font-size="10" text-anchor="end" fill="#4D4D4D" font-weight="normal" stroke="#4D4D4D" stroke-width="0.2">5</text>
<line x1="346.3" y1="101.5" x2="349.5" y2="101.5" stroke="#333333" stroke-width="1.0"/>
<text x="343.5" y="105.9" font-size="10" text-anchor="end" fill="#4D4D4D" font-weight="normal" stroke="#4D4D4D" stroke-width="0.2">6</text>
<line x1="346.3" y1="65" x2="349.5" y2="65" stroke="#333333" stroke-width="1.0"/>
<text x="343.5" y="69.4" font-size="10" text-anchor="end" fill="#4D4D4D" font-weight="normal" stroke="#4D4D4D" stroke-width="0.2">7</text>
<line x1="346.3" y1="28.5" x2="349.5" y2="28.5" stroke="#333333" stroke-width="1.0"/>
<text x="343.5" y="32.9" font-size="10" text-anchor="end" fill="#4D4D4D" font-weight="normal" stroke="#4D4D4D" stroke-width="0.2">8</text>
<text transform="translate(330.9 75.1) rotate(-90)" x="0" y="0" font-size="10" text-anchor="middle" fill="#000" stroke="#000" stroke-width="0.15" textLength="62.3" lengthAdjust="spacingAndGlyphs">Measured pK<tspan font-size="7.2" dy="2.8">d</tspan></text>
<text x="419.6" y="170.5" font-size="10" text-anchor="middle" fill="#000" stroke="#000" stroke-width="0.15" textLength="61" lengthAdjust="spacingAndGlyphs">Predicted pK<tspan font-size="7.2" dy="2.8">d</tspan></text>
<line x1="552.8" y1="4.6" x2="552.8" y2="144.1" stroke="#ECECEC" stroke-width="0.8"/>
<line x1="587.8" y1="4.6" x2="587.8" y2="144.1" stroke="#ECECEC" stroke-width="0.8"/>
<line x1="622.8" y1="4.6" x2="622.8" y2="144.1" stroke="#ECECEC" stroke-width="0.8"/>
<line x1="657.8" y1="4.6" x2="657.8" y2="144.1" stroke="#ECECEC" stroke-width="0.8"/>
<line x1="541.8" y1="133.25" x2="681.6" y2="133.25" stroke="#ECECEC" stroke-width="0.8"/>
<line x1="541.8" y1="97.75" x2="681.6" y2="97.75" stroke="#ECECEC" stroke-width="0.8"/>
<line x1="541.8" y1="62.25" x2="681.6" y2="62.25" stroke="#ECECEC" stroke-width="0.8"/>
<line x1="541.8" y1="26.75" x2="681.6" y2="26.75" stroke="#ECECEC" stroke-width="0.8"/>
<line x1="570.3" y1="4.6" x2="570.3" y2="144.1" stroke="#E6E6E6" stroke-width="1.3"/>
<line x1="605.3" y1="4.6" x2="605.3" y2="144.1" stroke="#E6E6E6" stroke-width="1.3"/>
<line x1="640.3" y1="4.6" x2="640.3" y2="144.1" stroke="#E6E6E6" stroke-width="1.3"/>
<line x1="675.3" y1="4.6" x2="675.3" y2="144.1" stroke="#E6E6E6" stroke-width="1.3"/>
<line x1="541.8" y1="115.5" x2="681.6" y2="115.5" stroke="#E6E6E6" stroke-width="1.3"/>
<line x1="541.8" y1="80" x2="681.6" y2="80" stroke="#E6E6E6" stroke-width="1.3"/>
<line x1="541.8" y1="44.5" x2="681.6" y2="44.5" stroke="#E6E6E6" stroke-width="1.3"/>
<line x1="541.8" y1="9" x2="681.6" y2="9" stroke="#E6E6E6" stroke-width="1.3"/>
<circle cx="665.2" cy="83.2" r="2.3" fill="rgb(20,20,245)"/>
<circle cx="664" cy="89.3" r="2.3" fill="rgb(20,20,245)"/>
<circle cx="657.1" cy="117.9" r="2.3" fill="rgb(20,20,245)"/>
<circle cx="648.3" cy="136.3" r="2.3" fill="rgb(20,20,245)"/>
<circle cx="650.3" cy="138" r="2.3" fill="rgb(20,20,245)"/>
<circle cx="668.3" cy="138" r="2.3" fill="rgb(20,20,245)"/>
<circle cx="672.8" cy="138" r="2.3" fill="rgb(20,20,245)"/>
<circle cx="675.5" cy="138" r="2.3" fill="rgb(20,20,245)"/>
<circle cx="564.5" cy="24.4" r="2.3" fill="rgb(25,215,35)"/>
<circle cx="606.6" cy="17.7" r="2.3" fill="rgb(25,215,35)"/>
<circle cx="591" cy="33.6" r="2.3" fill="rgb(25,215,35)"/>
<circle cx="606.4" cy="41.2" r="2.3" fill="rgb(25,215,35)"/>
<circle cx="588.6" cy="43.8" r="2.3" fill="rgb(25,215,35)"/>
<circle cx="590.2" cy="43.2" r="2.3" fill="rgb(25,215,35)"/>
<circle cx="559" cy="53" r="2.3" fill="rgb(25,215,35)"/>
<circle cx="603.7" cy="63.9" r="2.3" fill="rgb(25,215,35)"/>
<circle cx="631.9" cy="34.6" r="2.3" fill="rgb(25,215,35)"/>
<circle cx="572.7" cy="110.4" r="2.3" fill="rgb(25,215,35)"/>
<circle cx="547.7" cy="138" r="2.3" fill="rgb(25,215,35)"/>
<circle cx="675.9" cy="10.5" r="2.3" fill="#000"/>
<circle cx="675.5" cy="18.3" r="2.3" fill="#000"/>
<circle cx="674" cy="48.3" r="2.3" fill="#000"/>
<circle cx="647.3" cy="129.2" r="2.3" fill="#000"/>
<line x1="542.13" y1="144.08" x2="679.64" y2="4.6" stroke="#6E6E6E" stroke-width="2" stroke-dasharray="0.01 7.44" stroke-dashoffset="7.25" stroke-linecap="round"/>
<text x="603.9" y="15.6" font-size="8.2" text-anchor="end" fill="#000" font-weight="normal" textLength="18" lengthAdjust="spacingAndGlyphs" stroke="#000" stroke-width="0.2">PYK2</text>
<text x="629.5" y="32.6" font-size="8.2" text-anchor="end" fill="#000" font-weight="normal" textLength="13.9" lengthAdjust="spacingAndGlyphs" stroke="#000" stroke-width="0.2">FAK</text>
<text x="672.8" y="12.8" font-size="8.2" text-anchor="end" fill="#000" font-weight="normal" textLength="17" lengthAdjust="spacingAndGlyphs" stroke="#000" stroke-width="0.2">PLK1</text>
<text x="677.9" y="27.9" font-size="8.2" text-anchor="end" fill="#000" font-weight="normal" textLength="17" lengthAdjust="spacingAndGlyphs" stroke="#000" stroke-width="0.2">PLK2</text>
<text x="671.8" y="45.9" font-size="8.2" text-anchor="end" fill="#000" font-weight="normal" textLength="17" lengthAdjust="spacingAndGlyphs" stroke="#000" stroke-width="0.2">PLK3</text>
<rect x="541.8" y="4.6" width="139.8" height="139.5" fill="none" stroke="#5A5A5A" stroke-width="1.15"/>
<line x1="570.3" y1="144.1" x2="570.3" y2="147.3" stroke="#333333" stroke-width="1.0"/>
<text x="570.3" y="158.2" font-size="10" text-anchor="middle" fill="#4D4D4D" font-weight="normal" stroke="#4D4D4D" stroke-width="0.2">25</text>
<line x1="605.3" y1="144.1" x2="605.3" y2="147.3" stroke="#333333" stroke-width="1.0"/>
<text x="605.3" y="158.2" font-size="10" text-anchor="middle" fill="#4D4D4D" font-weight="normal" stroke="#4D4D4D" stroke-width="0.2">50</text>
<line x1="640.3" y1="144.1" x2="640.3" y2="147.3" stroke="#333333" stroke-width="1.0"/>
<text x="640.3" y="158.2" font-size="10" text-anchor="middle" fill="#4D4D4D" font-weight="normal" stroke="#4D4D4D" stroke-width="0.2">75</text>
<line x1="675.3" y1="144.1" x2="675.3" y2="147.3" stroke="#333333" stroke-width="1.0"/>
<text x="675.3" y="158.2" font-size="10" text-anchor="middle" fill="#4D4D4D" font-weight="normal" stroke="#4D4D4D" stroke-width="0.2">100</text>
<line x1="538.6" y1="115.5" x2="541.8" y2="115.5" stroke="#333333" stroke-width="1.0"/>
<text x="535.8" y="119.9" font-size="10" text-anchor="end" fill="#4D4D4D" font-weight="normal" stroke="#4D4D4D" stroke-width="0.2">25</text>
<line x1="538.6" y1="80" x2="541.8" y2="80" stroke="#333333" stroke-width="1.0"/>
<text x="535.8" y="84.4" font-size="10" text-anchor="end" fill="#4D4D4D" font-weight="normal" stroke="#4D4D4D" stroke-width="0.2">50</text>
<line x1="538.6" y1="44.5" x2="541.8" y2="44.5" stroke="#333333" stroke-width="1.0"/>
<text x="535.8" y="48.9" font-size="10" text-anchor="end" fill="#4D4D4D" font-weight="normal" stroke="#4D4D4D" stroke-width="0.2">75</text>
<line x1="538.6" y1="9" x2="541.8" y2="9" stroke="#333333" stroke-width="1.0"/>
<text x="535.8" y="13.4" font-size="10" text-anchor="end" fill="#4D4D4D" font-weight="normal" stroke="#4D4D4D" stroke-width="0.2">100</text>
<text transform="translate(511.3 74) rotate(-90)" x="0" y="0" font-size="10" text-anchor="middle" fill="#000" stroke="#000" stroke-width="0.15" textLength="100.8" lengthAdjust="spacingAndGlyphs">Expected inhibition (%)</text>
<text x="611.6" y="170.5" font-size="10" text-anchor="middle" fill="#000" stroke="#000" stroke-width="0.15" textLength="115.3" lengthAdjust="spacingAndGlyphs">Single–dose inhibition (%)</text>
<line x1="370.45" y1="177.5" x2="370.45" y2="317.2" stroke="#ECECEC" stroke-width="0.8"/>
<line x1="399.55" y1="177.5" x2="399.55" y2="317.2" stroke="#ECECEC" stroke-width="0.8"/>
<line x1="428.65" y1="177.5" x2="428.65" y2="317.2" stroke="#ECECEC" stroke-width="0.8"/>
<line x1="457.75" y1="177.5" x2="457.75" y2="317.2" stroke="#ECECEC" stroke-width="0.8"/>
<line x1="486.85" y1="177.5" x2="486.85" y2="317.2" stroke="#ECECEC" stroke-width="0.8"/>
<line x1="350.6" y1="289.8" x2="489.9" y2="289.8" stroke="#ECECEC" stroke-width="0.8"/>
<line x1="350.6" y1="247.2" x2="489.9" y2="247.2" stroke="#ECECEC" stroke-width="0.8"/>
<line x1="350.6" y1="204.6" x2="489.9" y2="204.6" stroke="#ECECEC" stroke-width="0.8"/>
<line x1="355.9" y1="177.5" x2="355.9" y2="317.2" stroke="#E6E6E6" stroke-width="1.3"/>
<line x1="385" y1="177.5" x2="385" y2="317.2" stroke="#E6E6E6" stroke-width="1.3"/>
<line x1="414.1" y1="177.5" x2="414.1" y2="317.2" stroke="#E6E6E6" stroke-width="1.3"/>
<line x1="443.2" y1="177.5" x2="443.2" y2="317.2" stroke="#E6E6E6" stroke-width="1.3"/>
<line x1="472.3" y1="177.5" x2="472.3" y2="317.2" stroke="#E6E6E6" stroke-width="1.3"/>
<line x1="350.6" y1="311.1" x2="489.9" y2="311.1" stroke="#E6E6E6" stroke-width="1.3"/>
<line x1="350.6" y1="268.5" x2="489.9" y2="268.5" stroke="#E6E6E6" stroke-width="1.3"/>
<line x1="350.6" y1="225.9" x2="489.9" y2="225.9" stroke="#E6E6E6" stroke-width="1.3"/>
<line x1="350.6" y1="183.3" x2="489.9" y2="183.3" stroke="#E6E6E6" stroke-width="1.3"/>
<circle cx="399.5" cy="283.2" r="2.3" fill="rgb(20,20,245)"/>
<circle cx="448.5" cy="283.2" r="2.3" fill="rgb(20,20,245)"/>
<circle cx="376.6" cy="311.2" r="2.3" fill="rgb(20,20,245)"/>
<circle cx="400.1" cy="311.2" r="2.3" fill="rgb(20,20,245)"/>
<circle cx="403.8" cy="311.2" r="2.3" fill="rgb(20,20,245)"/>
<circle cx="428.7" cy="311.2" r="2.3" fill="rgb(20,20,245)"/>
<circle cx="469.6" cy="199.5" r="2.3" fill="#000"/>
<circle cx="413" cy="233.2" r="2.3" fill="#000"/>
<circle cx="414.4" cy="242.3" r="2.3" fill="#000"/>
<circle cx="456.9" cy="238.7" r="2.3" fill="#000"/>
<circle cx="469.6" cy="244.9" r="2.3" fill="#000"/>
<circle cx="406.2" cy="250.3" r="2.3" fill="#000"/>
<circle cx="418.9" cy="262.6" r="2.3" fill="#000"/>
<circle cx="434.4" cy="257.9" r="2.3" fill="#000"/>
<circle cx="456.9" cy="266.1" r="2.3" fill="#000"/>
<circle cx="472.2" cy="266.5" r="2.3" fill="#000"/>
<circle cx="372.1" cy="311.2" r="2.3" fill="#000"/>
<circle cx="474.1" cy="192.3" r="2.3" fill="rgb(25,215,35)"/>
<circle cx="473.6" cy="244.9" r="2.3" fill="rgb(25,215,35)"/>
<line x1="350.61" y1="314.97" x2="489.89" y2="213.03" stroke="#6E6E6E" stroke-width="2" stroke-dasharray="0.01 7.44" stroke-dashoffset="0.27" stroke-linecap="round"/>
<line x1="467.5" y1="254.4" x2="472.6" y2="247.6" stroke="#000" stroke-width="0.8"/>
<text x="357.8" y="190.3" font-size="8.2" text-anchor="start" fill="#000" font-weight="normal" textLength="59.6" lengthAdjust="spacingAndGlyphs" stroke="#000" stroke-width="0.2">Spearman = 0.624</text>
<text x="357.8" y="199.5" font-size="8.2" text-anchor="start" fill="#000" font-weight="normal" textLength="43.3" lengthAdjust="spacingAndGlyphs" stroke="#000" stroke-width="0.2">GSK1379763</text>
<text x="451.8" y="191.3" font-size="8.2" text-anchor="start" fill="#000" font-weight="normal" textLength="19.8" lengthAdjust="spacingAndGlyphs" stroke="#000" stroke-width="0.2">DDR1</text>
<text x="448.1" y="207" font-size="8.2" text-anchor="start" fill="#000" font-weight="normal" textLength="20" lengthAdjust="spacingAndGlyphs" stroke="#000" stroke-width="0.2">MEK5</text>
<text x="460.4" y="260.5" font-size="8.2" text-anchor="start" fill="#000" font-weight="normal" textLength="24.5" lengthAdjust="spacingAndGlyphs" stroke="#000" stroke-width="0.2">AURKB</text>
<rect x="350.6" y="177.5" width="139.3" height="139.7" fill="none" stroke="#5A5A5A" stroke-width="1.15"/>
<line x1="355.9" y1="317.2" x2="355.9" y2="320.4" stroke="#333333" stroke-width="1.0"/>
<text x="355.9" y="331.3" font-size="10" text-anchor="middle" fill="#4D4D4D" font-weight="normal" stroke="#4D4D4D" stroke-width="0.2">5.0</text>
<line x1="385" y1="317.2" x2="385" y2="320.4" stroke="#333333" stroke-width="1.0"/>
<text x="385" y="331.3" font-size="10" text-anchor="middle" fill="#4D4D4D" font-weight="normal" stroke="#4D4D4D" stroke-width="0.2">5.5</text>
<line x1="414.1" y1="317.2" x2="414.1" y2="320.4" stroke="#333333" stroke-width="1.0"/>
<text x="414.1" y="331.3" font-size="10" text-anchor="middle" fill="#4D4D4D" font-weight="normal" stroke="#4D4D4D" stroke-width="0.2">6.0</text>
<line x1="443.2" y1="317.2" x2="443.2" y2="320.4" stroke="#333333" stroke-width="1.0"/>
<text x="443.2" y="331.3" font-size="10" text-anchor="middle" fill="#4D4D4D" font-weight="normal" stroke="#4D4D4D" stroke-width="0.2">6.5</text>
<line x1="472.3" y1="317.2" x2="472.3" y2="320.4" stroke="#333333" stroke-width="1.0"/>
<text x="472.3" y="331.3" font-size="10" text-anchor="middle" fill="#4D4D4D" font-weight="normal" stroke="#4D4D4D" stroke-width="0.2">7.0</text>
<line x1="347.4" y1="311.1" x2="350.6" y2="311.1" stroke="#333333" stroke-width="1.0"/>
<text x="344.6" y="315.5" font-size="10" text-anchor="end" fill="#4D4D4D" font-weight="normal" stroke="#4D4D4D" stroke-width="0.2">5</text>
<line x1="347.4" y1="268.5" x2="350.6" y2="268.5" stroke="#333333" stroke-width="1.0"/>
<text x="344.6" y="272.9" font-size="10" text-anchor="end" fill="#4D4D4D" font-weight="normal" stroke="#4D4D4D" stroke-width="0.2">6</text>
<line x1="347.4" y1="225.9" x2="350.6" y2="225.9" stroke="#333333" stroke-width="1.0"/>
<text x="344.6" y="230.3" font-size="10" text-anchor="end" fill="#4D4D4D" font-weight="normal" stroke="#4D4D4D" stroke-width="0.2">7</text>
<line x1="347.4" y1="183.3" x2="350.6" y2="183.3" stroke="#333333" stroke-width="1.0"/>
<text x="344.6" y="187.7" font-size="10" text-anchor="end" fill="#4D4D4D" font-weight="normal" stroke="#4D4D4D" stroke-width="0.2">8</text>
<text transform="translate(331.1 248.3) rotate(-90)" x="0" y="0" font-size="10" text-anchor="middle" fill="#000" stroke="#000" stroke-width="0.15" textLength="62.3" lengthAdjust="spacingAndGlyphs">Measured pK<tspan font-size="7.2" dy="2.8">d</tspan></text>
<text x="420.2" y="343.6" font-size="10" text-anchor="middle" fill="#000" stroke="#000" stroke-width="0.15" textLength="61" lengthAdjust="spacingAndGlyphs">Predicted pK<tspan font-size="7.2" dy="2.8">d</tspan></text>
<line x1="561.26" y1="177.5" x2="561.26" y2="316.9" stroke="#ECECEC" stroke-width="0.8"/>
<line x1="593.98" y1="177.5" x2="593.98" y2="316.9" stroke="#ECECEC" stroke-width="0.8"/>
<line x1="626.7" y1="177.5" x2="626.7" y2="316.9" stroke="#ECECEC" stroke-width="0.8"/>
<line x1="659.42" y1="177.5" x2="659.42" y2="316.9" stroke="#ECECEC" stroke-width="0.8"/>
<line x1="542.2" y1="305.75" x2="681.3" y2="305.75" stroke="#ECECEC" stroke-width="0.8"/>
<line x1="542.2" y1="270.25" x2="681.3" y2="270.25" stroke="#ECECEC" stroke-width="0.8"/>
<line x1="542.2" y1="234.75" x2="681.3" y2="234.75" stroke="#ECECEC" stroke-width="0.8"/>
<line x1="542.2" y1="199.25" x2="681.3" y2="199.25" stroke="#ECECEC" stroke-width="0.8"/>
<line x1="544.9" y1="177.5" x2="544.9" y2="316.9" stroke="#E6E6E6" stroke-width="1.3"/>
<line x1="577.62" y1="177.5" x2="577.62" y2="316.9" stroke="#E6E6E6" stroke-width="1.3"/>
<line x1="610.34" y1="177.5" x2="610.34" y2="316.9" stroke="#E6E6E6" stroke-width="1.3"/>
<line x1="643.06" y1="177.5" x2="643.06" y2="316.9" stroke="#E6E6E6" stroke-width="1.3"/>
<line x1="675.78" y1="177.5" x2="675.78" y2="316.9" stroke="#E6E6E6" stroke-width="1.3"/>
<line x1="542.2" y1="288" x2="681.3" y2="288" stroke="#E6E6E6" stroke-width="1.3"/>
<line x1="542.2" y1="252.5" x2="681.3" y2="252.5" stroke="#E6E6E6" stroke-width="1.3"/>
<line x1="542.2" y1="217" x2="681.3" y2="217" stroke="#E6E6E6" stroke-width="1.3"/>
<line x1="542.2" y1="181.5" x2="681.3" y2="181.5" stroke="#E6E6E6" stroke-width="1.3"/>
<circle cx="647.9" cy="279.3" r="2.3" fill="rgb(20,20,245)"/>
<circle cx="651.3" cy="279.3" r="2.3" fill="rgb(20,20,245)"/>
<circle cx="646.2" cy="311.2" r="2.3" fill="rgb(20,20,245)"/>
<circle cx="651.3" cy="311.2" r="2.3" fill="rgb(20,20,245)"/>
<circle cx="657.9" cy="311.2" r="2.3" fill="rgb(20,20,245)"/>
<circle cx="675.9" cy="184.7" r="2.3" fill="#000"/>
<circle cx="652.8" cy="199.9" r="2.3" fill="#000"/>
<circle cx="661" cy="209.1" r="2.3" fill="#000"/>
<circle cx="665.9" cy="212.7" r="2.3" fill="#000"/>
<circle cx="672.4" cy="205" r="2.3" fill="#000"/>
<circle cx="675.9" cy="219.9" r="2.3" fill="#000"/>
<circle cx="657.9" cy="232.6" r="2.3" fill="#000"/>
<circle cx="656.4" cy="241.4" r="2.3" fill="#000"/>
<circle cx="656.2" cy="247.7" r="2.3" fill="#000"/>
<circle cx="658.1" cy="248.7" r="2.3" fill="#000"/>
<circle cx="642.8" cy="311.2" r="2.3" fill="#000"/>
<circle cx="548.1" cy="183.5" r="2.3" fill="rgb(25,215,35)"/>
<circle cx="602.3" cy="212.7" r="2.3" fill="rgb(25,215,35)"/>
<line x1="542.22" y1="297.42" x2="680.39" y2="177.5" stroke="#6E6E6E" stroke-width="2" stroke-dasharray="0.01 7.44" stroke-dashoffset="7.16" stroke-linecap="round"/>
<text x="551.2" y="189.6" font-size="8.2" text-anchor="start" fill="#000" font-weight="normal" textLength="19.4" lengthAdjust="spacingAndGlyphs" stroke="#000" stroke-width="0.2">DDR1</text>
<text x="600.7" y="211.1" font-size="8.2" text-anchor="end" fill="#000" font-weight="normal" textLength="25.6" lengthAdjust="spacingAndGlyphs" stroke="#000" stroke-width="0.2">AURKB</text>
<text x="672.8" y="186.2" font-size="8.2" text-anchor="end" fill="#000" font-weight="normal" textLength="19.4" lengthAdjust="spacingAndGlyphs" stroke="#000" stroke-width="0.2">MEK5</text>
<rect x="542.2" y="177.5" width="139.1" height="139.4" fill="none" stroke="#5A5A5A" stroke-width="1.15"/>
<line x1="544.9" y1="316.9" x2="544.9" y2="320.1" stroke="#333333" stroke-width="1.0"/>
<text x="544.9" y="331" font-size="10" text-anchor="middle" fill="#4D4D4D" font-weight="normal" stroke="#4D4D4D" stroke-width="0.2">20</text>
<line x1="577.62" y1="316.9" x2="577.62" y2="320.1" stroke="#333333" stroke-width="1.0"/>
<text x="577.62" y="331" font-size="10" text-anchor="middle" fill="#4D4D4D" font-weight="normal" stroke="#4D4D4D" stroke-width="0.2">40</text>
<line x1="610.34" y1="316.9" x2="610.34" y2="320.1" stroke="#333333" stroke-width="1.0"/>
<text x="610.34" y="331" font-size="10" text-anchor="middle" fill="#4D4D4D" font-weight="normal" stroke="#4D4D4D" stroke-width="0.2">60</text>
<line x1="643.06" y1="316.9" x2="643.06" y2="320.1" stroke="#333333" stroke-width="1.0"/>
<text x="643.06" y="331" font-size="10" text-anchor="middle" fill="#4D4D4D" font-weight="normal" stroke="#4D4D4D" stroke-width="0.2">80</text>
<line x1="675.78" y1="316.9" x2="675.78" y2="320.1" stroke="#333333" stroke-width="1.0"/>
<text x="675.78" y="331" font-size="10" text-anchor="middle" fill="#4D4D4D" font-weight="normal" stroke="#4D4D4D" stroke-width="0.2">100</text>
<line x1="539" y1="288" x2="542.2" y2="288" stroke="#333333" stroke-width="1.0"/>
<text x="536.2" y="292.4" font-size="10" text-anchor="end" fill="#4D4D4D" font-weight="normal" stroke="#4D4D4D" stroke-width="0.2">25</text>
<line x1="539" y1="252.5" x2="542.2" y2="252.5" stroke="#333333" stroke-width="1.0"/>
<text x="536.2" y="256.9" font-size="10" text-anchor="end" fill="#4D4D4D" font-weight="normal" stroke="#4D4D4D" stroke-width="0.2">50</text>
<line x1="539" y1="217" x2="542.2" y2="217" stroke="#333333" stroke-width="1.0"/>
<text x="536.2" y="221.4" font-size="10" text-anchor="end" fill="#4D4D4D" font-weight="normal" stroke="#4D4D4D" stroke-width="0.2">75</text>
<line x1="539" y1="181.5" x2="542.2" y2="181.5" stroke="#333333" stroke-width="1.0"/>
<text x="536.2" y="185.9" font-size="10" text-anchor="end" fill="#4D4D4D" font-weight="normal" stroke="#4D4D4D" stroke-width="0.2">100</text>
<text transform="translate(511.5 247) rotate(-90)" x="0" y="0" font-size="10" text-anchor="middle" fill="#000" stroke="#000" stroke-width="0.15" textLength="100.8" lengthAdjust="spacingAndGlyphs">Expected inhibition (%)</text>
<text x="611.7" y="343.3" font-size="10" text-anchor="middle" fill="#000" stroke="#000" stroke-width="0.15" textLength="115.3" lengthAdjust="spacingAndGlyphs">Single–dose inhibition (%)</text>
<line x1="372.03" y1="350.6" x2="372.03" y2="489.6" stroke="#ECECEC" stroke-width="0.8"/>
<line x1="401.07" y1="350.6" x2="401.07" y2="489.6" stroke="#ECECEC" stroke-width="0.8"/>
<line x1="430.12" y1="350.6" x2="430.12" y2="489.6" stroke="#ECECEC" stroke-width="0.8"/>
<line x1="459.18" y1="350.6" x2="459.18" y2="489.6" stroke="#ECECEC" stroke-width="0.8"/>
<line x1="488.23" y1="350.6" x2="488.23" y2="489.6" stroke="#ECECEC" stroke-width="0.8"/>
<line x1="351.1" y1="462.4" x2="490.6" y2="462.4" stroke="#ECECEC" stroke-width="0.8"/>
<line x1="351.1" y1="420" x2="490.6" y2="420" stroke="#ECECEC" stroke-width="0.8"/>
<line x1="351.1" y1="377.6" x2="490.6" y2="377.6" stroke="#ECECEC" stroke-width="0.8"/>
<line x1="357.5" y1="350.6" x2="357.5" y2="489.6" stroke="#E6E6E6" stroke-width="1.3"/>
<line x1="386.55" y1="350.6" x2="386.55" y2="489.6" stroke="#E6E6E6" stroke-width="1.3"/>
<line x1="415.6" y1="350.6" x2="415.6" y2="489.6" stroke="#E6E6E6" stroke-width="1.3"/>
<line x1="444.65" y1="350.6" x2="444.65" y2="489.6" stroke="#E6E6E6" stroke-width="1.3"/>
<line x1="473.7" y1="350.6" x2="473.7" y2="489.6" stroke="#E6E6E6" stroke-width="1.3"/>
<line x1="351.1" y1="483.6" x2="490.6" y2="483.6" stroke="#E6E6E6" stroke-width="1.3"/>
<line x1="351.1" y1="441.2" x2="490.6" y2="441.2" stroke="#E6E6E6" stroke-width="1.3"/>
<line x1="351.1" y1="398.8" x2="490.6" y2="398.8" stroke="#E6E6E6" stroke-width="1.3"/>
<line x1="351.1" y1="356.4" x2="490.6" y2="356.4" stroke="#E6E6E6" stroke-width="1.3"/>
<circle cx="401.1" cy="483.7" r="2.3" fill="rgb(20,20,245)"/>
<circle cx="440.3" cy="357.8" r="2.3" fill="#000"/>
<circle cx="466.7" cy="377" r="2.3" fill="#000"/>
<circle cx="435.8" cy="382.1" r="2.3" fill="#000"/>
<circle cx="434.4" cy="407.5" r="2.3" fill="#000"/>
<circle cx="445.6" cy="407.5" r="2.3" fill="#000"/>
<circle cx="396" cy="408.4" r="2.3" fill="#000"/>
<circle cx="407.2" cy="408.4" r="2.3" fill="#000"/>
<circle cx="409.7" cy="411.4" r="2.3" fill="#000"/>
<circle cx="448" cy="417.1" r="2.3" fill="#000"/>
<circle cx="401.7" cy="427.1" r="2.3" fill="#000"/>
<circle cx="437.5" cy="454" r="2.3" fill="#000"/>
<circle cx="429.7" cy="401.7" r="2.3" fill="rgb(240,20,20)"/>
<circle cx="389.9" cy="420.9" r="2.3" fill="rgb(240,20,20)"/>
<circle cx="410.9" cy="430.1" r="2.3" fill="rgb(240,20,20)"/>
<circle cx="445" cy="429.1" r="2.3" fill="rgb(240,20,20)"/>
<circle cx="443.4" cy="432.2" r="2.3" fill="rgb(240,20,20)"/>
<line x1="351.1" y1="488.27" x2="490.59" y2="386.47" stroke="#6E6E6E" stroke-width="2" stroke-dasharray="0.01 7.44" stroke-dashoffset="6.42" stroke-linecap="round"/>
<text x="357.8" y="362.7" font-size="8.2" text-anchor="start" fill="#000" font-weight="normal" textLength="59.6" lengthAdjust="spacingAndGlyphs" stroke="#000" stroke-width="0.2">Spearman = 0.268</text>
<text x="357.8" y="372.1" font-size="8.2" text-anchor="start" fill="#000" font-weight="normal" textLength="42.9" lengthAdjust="spacingAndGlyphs" stroke="#000" stroke-width="0.2">PFE-PKIS 14</text>
<text x="443.6" y="362.7" font-size="8.2" text-anchor="start" fill="#000" font-weight="normal" textLength="24.5" lengthAdjust="spacingAndGlyphs" stroke="#000" stroke-width="0.2">DRAK2</text>
<text x="470.6" y="380.2" font-size="8.2" text-anchor="start" fill="#000" font-weight="normal" textLength="18" lengthAdjust="spacingAndGlyphs" stroke="#000" stroke-width="0.2">CLK4</text>
<text x="447.7" y="427.1" font-size="8.2" text-anchor="start" fill="#000" font-weight="normal" textLength="24.9" lengthAdjust="spacingAndGlyphs" stroke="#000" stroke-width="0.2">AURKB</text>
<text x="440.9" y="441.4" font-size="8.2" text-anchor="start" fill="#000" font-weight="normal" textLength="33.4" lengthAdjust="spacingAndGlyphs" stroke="#000" stroke-width="0.2">CSNK2A2</text>
<rect x="351.1" y="350.6" width="139.5" height="139" fill="none" stroke="#5A5A5A" stroke-width="1.15"/>
<line x1="357.5" y1="489.6" x2="357.5" y2="492.8" stroke="#333333" stroke-width="1.0"/>
<text x="357.5" y="503.7" font-size="10" text-anchor="middle" fill="#4D4D4D" font-weight="normal" stroke="#4D4D4D" stroke-width="0.2">5.0</text>
<line x1="386.55" y1="489.6" x2="386.55" y2="492.8" stroke="#333333" stroke-width="1.0"/>
<text x="386.55" y="503.7" font-size="10" text-anchor="middle" fill="#4D4D4D" font-weight="normal" stroke="#4D4D4D" stroke-width="0.2">5.5</text>
<line x1="415.6" y1="489.6" x2="415.6" y2="492.8" stroke="#333333" stroke-width="1.0"/>
<text x="415.6" y="503.7" font-size="10" text-anchor="middle" fill="#4D4D4D" font-weight="normal" stroke="#4D4D4D" stroke-width="0.2">6.0</text>
<line x1="444.65" y1="489.6" x2="444.65" y2="492.8" stroke="#333333" stroke-width="1.0"/>
<text x="444.65" y="503.7" font-size="10" text-anchor="middle" fill="#4D4D4D" font-weight="normal" stroke="#4D4D4D" stroke-width="0.2">6.5</text>
<line x1="473.7" y1="489.6" x2="473.7" y2="492.8" stroke="#333333" stroke-width="1.0"/>
<text x="473.7" y="503.7" font-size="10" text-anchor="middle" fill="#4D4D4D" font-weight="normal" stroke="#4D4D4D" stroke-width="0.2">7.0</text>
<line x1="347.9" y1="483.6" x2="351.1" y2="483.6" stroke="#333333" stroke-width="1.0"/>
<text x="345.1" y="488" font-size="10" text-anchor="end" fill="#4D4D4D" font-weight="normal" stroke="#4D4D4D" stroke-width="0.2">5</text>
<line x1="347.9" y1="441.2" x2="351.1" y2="441.2" stroke="#333333" stroke-width="1.0"/>
<text x="345.1" y="445.6" font-size="10" text-anchor="end" fill="#4D4D4D" font-weight="normal" stroke="#4D4D4D" stroke-width="0.2">6</text>
<line x1="347.9" y1="398.8" x2="351.1" y2="398.8" stroke="#333333" stroke-width="1.0"/>
<text x="345.1" y="403.2" font-size="10" text-anchor="end" fill="#4D4D4D" font-weight="normal" stroke="#4D4D4D" stroke-width="0.2">7</text>
<line x1="347.9" y1="356.4" x2="351.1" y2="356.4" stroke="#333333" stroke-width="1.0"/>
<text x="345.1" y="360.8" font-size="10" text-anchor="end" fill="#4D4D4D" font-weight="normal" stroke="#4D4D4D" stroke-width="0.2">8</text>
<text transform="translate(331.8 421.1) rotate(-90)" x="0" y="0" font-size="10" text-anchor="middle" fill="#000" stroke="#000" stroke-width="0.15" textLength="62.3" lengthAdjust="spacingAndGlyphs">Measured pK<tspan font-size="7.2" dy="2.8">d</tspan></text>
<text x="420.9" y="516.1" font-size="10" text-anchor="middle" fill="#000" stroke="#000" stroke-width="0.15" textLength="61.8" lengthAdjust="spacingAndGlyphs">Predicted pK<tspan font-size="7.2" dy="2.8">d</tspan></text>
<line x1="554.32" y1="350" x2="554.32" y2="489.5" stroke="#ECECEC" stroke-width="0.8"/>
<line x1="603.27" y1="350" x2="603.27" y2="489.5" stroke="#ECECEC" stroke-width="0.8"/>
<line x1="652.22" y1="350" x2="652.22" y2="489.5" stroke="#ECECEC" stroke-width="0.8"/>
<line x1="543.4" y1="479.3" x2="682.5" y2="479.3" stroke="#ECECEC" stroke-width="0.8"/>
<line x1="543.4" y1="443.7" x2="682.5" y2="443.7" stroke="#ECECEC" stroke-width="0.8"/>
<line x1="543.4" y1="408.1" x2="682.5" y2="408.1" stroke="#ECECEC" stroke-width="0.8"/>
<line x1="543.4" y1="372.5" x2="682.5" y2="372.5" stroke="#ECECEC" stroke-width="0.8"/>
<line x1="578.8" y1="350" x2="578.8" y2="489.5" stroke="#E6E6E6" stroke-width="1.3"/>
<line x1="627.75" y1="350" x2="627.75" y2="489.5" stroke="#E6E6E6" stroke-width="1.3"/>
<line x1="676.7" y1="350" x2="676.7" y2="489.5" stroke="#E6E6E6" stroke-width="1.3"/>
<line x1="543.4" y1="461.5" x2="682.5" y2="461.5" stroke="#E6E6E6" stroke-width="1.3"/>
<line x1="543.4" y1="425.9" x2="682.5" y2="425.9" stroke="#E6E6E6" stroke-width="1.3"/>
<line x1="543.4" y1="390.3" x2="682.5" y2="390.3" stroke="#E6E6E6" stroke-width="1.3"/>
<line x1="543.4" y1="354.7" x2="682.5" y2="354.7" stroke="#E6E6E6" stroke-width="1.3"/>
<circle cx="676.9" cy="483.9" r="2.3" fill="rgb(20,20,245)"/>
<circle cx="612.9" cy="358.6" r="2.3" fill="#000"/>
<circle cx="652.3" cy="359.8" r="2.3" fill="#000"/>
<circle cx="676.9" cy="356.1" r="2.3" fill="#000"/>
<circle cx="583.5" cy="375.1" r="2.3" fill="#000"/>
<circle cx="588.4" cy="374.1" r="2.3" fill="#000"/>
<circle cx="637.4" cy="378.2" r="2.3" fill="#000"/>
<circle cx="651.9" cy="375.1" r="2.3" fill="#000"/>
<circle cx="657" cy="374.1" r="2.3" fill="#000"/>
<circle cx="666.9" cy="384.7" r="2.3" fill="#000"/>
<circle cx="642.3" cy="399.7" r="2.3" fill="#000"/>
<circle cx="549.1" cy="449.3" r="2.3" fill="#000"/>
<circle cx="578.8" cy="369.8" r="2.3" fill="rgb(240,20,20)"/>
<circle cx="554.2" cy="390.3" r="2.3" fill="rgb(240,20,20)"/>
<circle cx="568.5" cy="408.2" r="2.3" fill="rgb(240,20,20)"/>
<circle cx="573.7" cy="404.8" r="2.3" fill="rgb(240,20,20)"/>
<circle cx="578.8" cy="403.1" r="2.3" fill="rgb(240,20,20)"/>
<line x1="543.56" y1="393.43" x2="682.48" y2="353.02" stroke="#6E6E6E" stroke-width="2" stroke-dasharray="0.01 7.44" stroke-dashoffset="6.81" stroke-linecap="round"/>
<text x="616.6" y="362.7" font-size="8.2" text-anchor="start" fill="#000" font-weight="normal" textLength="18" lengthAdjust="spacingAndGlyphs" stroke="#000" stroke-width="0.2">CLK4</text>
<text x="657.9" y="364.7" font-size="8.2" text-anchor="start" fill="#000" font-weight="normal" textLength="24.1" lengthAdjust="spacingAndGlyphs" stroke="#000" stroke-width="0.2">DRAK2</text>
<text x="581.8" y="402.1" font-size="8.2" text-anchor="start" fill="#000" font-weight="normal" textLength="25" lengthAdjust="spacingAndGlyphs" stroke="#000" stroke-width="0.2">AURKB</text>
<text x="566.5" y="417.4" font-size="8.2" text-anchor="start" fill="#000" font-weight="normal" textLength="33.3" lengthAdjust="spacingAndGlyphs" stroke="#000" stroke-width="0.2">CSNK2A2</text>
<rect x="543.4" y="350" width="139.1" height="139.5" fill="none" stroke="#5A5A5A" stroke-width="1.15"/>
<line x1="578.8" y1="489.5" x2="578.8" y2="492.7" stroke="#333333" stroke-width="1.0"/>
<text x="578.8" y="503.6" font-size="10" text-anchor="middle" fill="#4D4D4D" font-weight="normal" stroke="#4D4D4D" stroke-width="0.2">80</text>
<line x1="627.75" y1="489.5" x2="627.75" y2="492.7" stroke="#333333" stroke-width="1.0"/>
<text x="627.75" y="503.6" font-size="10" text-anchor="middle" fill="#4D4D4D" font-weight="normal" stroke="#4D4D4D" stroke-width="0.2">90</text>
<line x1="676.7" y1="489.5" x2="676.7" y2="492.7" stroke="#333333" stroke-width="1.0"/>
<text x="676.7" y="503.6" font-size="10" text-anchor="middle" fill="#4D4D4D" font-weight="normal" stroke="#4D4D4D" stroke-width="0.2">100</text>
<line x1="540.2" y1="461.5" x2="543.4" y2="461.5" stroke="#333333" stroke-width="1.0"/>
<text x="537.4" y="465.9" font-size="10" text-anchor="end" fill="#4D4D4D" font-weight="normal" stroke="#4D4D4D" stroke-width="0.2">25</text>
<line x1="540.2" y1="425.9" x2="543.4" y2="425.9" stroke="#333333" stroke-width="1.0"/>
<text x="537.4" y="430.3" font-size="10" text-anchor="end" fill="#4D4D4D" font-weight="normal" stroke="#4D4D4D" stroke-width="0.2">50</text>
<line x1="540.2" y1="390.3" x2="543.4" y2="390.3" stroke="#333333" stroke-width="1.0"/>
<text x="537.4" y="394.7" font-size="10" text-anchor="end" fill="#4D4D4D" font-weight="normal" stroke="#4D4D4D" stroke-width="0.2">75</text>
<line x1="540.2" y1="354.7" x2="543.4" y2="354.7" stroke="#333333" stroke-width="1.0"/>
<text x="537.4" y="359.1" font-size="10" text-anchor="end" fill="#4D4D4D" font-weight="normal" stroke="#4D4D4D" stroke-width="0.2">100</text>
<text transform="translate(512.6 419.8) rotate(-90)" x="0" y="0" font-size="10" text-anchor="middle" fill="#000" stroke="#000" stroke-width="0.15" textLength="100.8" lengthAdjust="spacingAndGlyphs">Expected inhibition (%)</text>
<text x="612.9" y="516.2" font-size="10" text-anchor="middle" fill="#000" stroke="#000" stroke-width="0.15" textLength="115.3" lengthAdjust="spacingAndGlyphs">Single–dose inhibition (%)</text>
<line x1="81.97" y1="321.4" x2="81.97" y2="489.8" stroke="#ECECEC" stroke-width="0.8"/>
<line x1="145.52" y1="321.4" x2="145.52" y2="489.8" stroke="#ECECEC" stroke-width="0.8"/>
<line x1="209.07" y1="321.4" x2="209.07" y2="489.8" stroke="#ECECEC" stroke-width="0.8"/>
<line x1="272.62" y1="321.4" x2="272.62" y2="489.8" stroke="#ECECEC" stroke-width="0.8"/>
<line x1="38" y1="443.25" x2="317.3" y2="443.25" stroke="#ECECEC" stroke-width="0.8"/>
<line x1="38" y1="397.35" x2="317.3" y2="397.35" stroke="#ECECEC" stroke-width="0.8"/>
<line x1="38" y1="351.45" x2="317.3" y2="351.45" stroke="#ECECEC" stroke-width="0.8"/>
<line x1="50.2" y1="321.4" x2="50.2" y2="489.8" stroke="#E6E6E6" stroke-width="1.3"/>
<line x1="113.75" y1="321.4" x2="113.75" y2="489.8" stroke="#E6E6E6" stroke-width="1.3"/>
<line x1="177.3" y1="321.4" x2="177.3" y2="489.8" stroke="#E6E6E6" stroke-width="1.3"/>
<line x1="240.85" y1="321.4" x2="240.85" y2="489.8" stroke="#E6E6E6" stroke-width="1.3"/>
<line x1="304.4" y1="321.4" x2="304.4" y2="489.8" stroke="#E6E6E6" stroke-width="1.3"/>
<line x1="38" y1="466.2" x2="317.3" y2="466.2" stroke="#E6E6E6" stroke-width="1.3"/>
<line x1="38" y1="420.3" x2="317.3" y2="420.3" stroke="#E6E6E6" stroke-width="1.3"/>
<line x1="38" y1="374.4" x2="317.3" y2="374.4" stroke="#E6E6E6" stroke-width="1.3"/>
<line x1="38" y1="328.5" x2="317.3" y2="328.5" stroke="#E6E6E6" stroke-width="1.3"/>
<line x1="38" y1="420.3" x2="317.3" y2="420.3" stroke="#7F7F7F" stroke-width="1.8" stroke-dasharray="9.8 4.3"/>
<line x1="253.9" y1="489.8" x2="253.9" y2="321.4" stroke="#7F7F7F" stroke-width="1.8" stroke-dasharray="9.7 4.5"/>
<polyline points="50.2,363.38 55.28,366.51 65.45,367.06 83.25,369.08 101.04,369.44 115.53,369.63 126.46,370.36 148.32,371.28 164.59,370.36 177.3,369.99 192.55,369.81 215.43,369.26 238.31,368.89 249.49,368.16 253.56,367.79 258.64,366.69 267.8,363.02 274.4,358.61 278.98,357.51 288.13,348.51 294.99,343.92 299.32,341.54 304.4,335.48" fill="none" stroke="rgb(248,160,160)" stroke-width="1.5" stroke-linejoin="round" stroke-linecap="butt"/>
<polyline points="50.2,394.23 55.28,387.99 65.45,387.44 81.21,383.76 99.26,380.64 115.53,379.91 122.14,377.7 147.05,374.77 156.2,375.13 167.39,372.56 176.54,373.11 192.55,372.93 217.72,371.46 238.56,371.46 254.07,368.52 267.8,363.93 274.4,359.53 278.98,358.43 288.13,349.25 294.99,344.66 299.32,342.27 304.4,336.03" fill="none" stroke="rgb(230,160,20)" stroke-width="1.7" stroke-linejoin="round" stroke-linecap="butt"/>
<polyline points="50.2,400.47 55.28,394.23 69.77,393.13 83.5,389.64 99.26,386.52 115.28,384.5 122.14,383.03 147.05,379.36 156.2,379.91 167.39,377.34 176.54,377.34 192.55,377.15 215.43,376.6 238.56,377.7 251.78,375.32 260.93,372.01 267.8,369.26 274.4,363.75 280.25,362.47 290.42,350.53 299.32,347.23 304.4,337.86" fill="none" stroke="rgb(22,138,132)" stroke-width="1.7" stroke-linejoin="round" stroke-linecap="butt"/>
<polyline points="50.2,383.4 55.28,387.99 65.2,388.35 81.21,391.29 99.26,393.49 115.53,394.23 122.14,395.33 147.05,398.08 156.2,396.62 167.39,398.08 176.54,397.17 192.55,395.51 217.72,396.43 226.87,394.96 242.88,394.6 248.22,395.88 254.07,399.37 261.19,405.43 269.07,419.01 274.4,425.62 279.49,412.96 285.59,405.24 289.91,401.39 294.49,401.76 299.32,446.92 304.4,420.48" fill="none" stroke="rgb(86,180,233)" stroke-width="1.5" stroke-linejoin="round" stroke-linecap="butt"/>
<polyline points="50.2,328.5 55.28,335.48 65.45,336.58 75.62,338.6 85.79,339.88 95.96,341.72 106.12,343.56 116.29,344.66 126.46,345.94 141.71,347.41 156.96,349.25 172.22,351.27 187.47,353.1 202.72,354.75 217.97,356.22 233.22,357.69 244.92,359.53 249.49,362.83 254.07,367.42 260.93,383.4 267.8,399.37 276.95,417.36 285.59,436.46 296.01,457.39 301.1,469.32 304.4,480.7" fill="none" stroke="#000" stroke-width="1.75" stroke-linejoin="round" stroke-linecap="butt" stroke-dasharray="5.6 5.75"/>
<line x1="51.6" y1="447.3" x2="60" y2="447.3" stroke="#000" stroke-width="1.6" stroke-dasharray="1.3 1.6"/>
<line x1="51.6" y1="455" x2="60" y2="455" stroke="rgb(248,160,160)" stroke-width="1.6"/>
<line x1="51.6" y1="462.9" x2="60" y2="462.9" stroke="rgb(230,160,20)" stroke-width="1.6"/>
<line x1="51.6" y1="471.1" x2="60" y2="471.1" stroke="rgb(22,138,132)" stroke-width="1.6"/>
<line x1="51.6" y1="479.7" x2="60" y2="479.7" stroke="rgb(86,180,233)" stroke-width="1.6"/>
<text x="63.7" y="449.9" font-size="8.2" text-anchor="start" fill="#000" font-weight="normal" textLength="62.8" lengthAdjust="spacingAndGlyphs" stroke="#000" stroke-width="0.2">Percentage of pairs</text>
<text x="63.7" y="457.6" font-size="8.2" text-anchor="start" fill="#000" font-weight="normal" textLength="54.3" lengthAdjust="spacingAndGlyphs" stroke="#000" stroke-width="0.2">Combined model</text>
<text x="63.7" y="465.5" font-size="8.2" text-anchor="start" fill="#000" font-weight="normal" textLength="53.9" lengthAdjust="spacingAndGlyphs" stroke="#000" stroke-width="0.2">Ensemble model</text>
<text x="63.7" y="473.7" font-size="8.2" text-anchor="start" fill="#000" font-weight="normal" textLength="62" lengthAdjust="spacingAndGlyphs" stroke="#000" stroke-width="0.2">Team Q.E.D model</text>
<text x="63.7" y="482.3" font-size="8.2" text-anchor="start" fill="#000" font-weight="normal" textLength="49.9" lengthAdjust="spacingAndGlyphs" stroke="#000" stroke-width="0.2">Inhibition assay</text>
<rect x="38" y="321.4" width="279.3" height="168.4" fill="none" stroke="#5A5A5A" stroke-width="1.15"/>
<line x1="50.2" y1="489.8" x2="50.2" y2="493" stroke="#333333" stroke-width="1.0"/>
<text x="50.2" y="503.9" font-size="9.5" text-anchor="middle" fill="#4D4D4D" font-weight="normal" stroke="#4D4D4D" stroke-width="0.2">0</text>
<line x1="113.75" y1="489.8" x2="113.75" y2="493" stroke="#333333" stroke-width="1.0"/>
<text x="113.75" y="503.9" font-size="9.5" text-anchor="middle" fill="#4D4D4D" font-weight="normal" stroke="#4D4D4D" stroke-width="0.2">25</text>
<line x1="177.3" y1="489.8" x2="177.3" y2="493" stroke="#333333" stroke-width="1.0"/>
<text x="177.3" y="503.9" font-size="9.5" text-anchor="middle" fill="#4D4D4D" font-weight="normal" stroke="#4D4D4D" stroke-width="0.2">50</text>
<line x1="240.85" y1="489.8" x2="240.85" y2="493" stroke="#333333" stroke-width="1.0"/>
<text x="240.85" y="503.9" font-size="9.5" text-anchor="middle" fill="#4D4D4D" font-weight="normal" stroke="#4D4D4D" stroke-width="0.2">75</text>
<line x1="304.4" y1="489.8" x2="304.4" y2="493" stroke="#333333" stroke-width="1.0"/>
<text x="304.4" y="503.9" font-size="9.5" text-anchor="middle" fill="#4D4D4D" font-weight="normal" stroke="#4D4D4D" stroke-width="0.2">100</text>
<line x1="34.8" y1="466.2" x2="38" y2="466.2" stroke="#333333" stroke-width="1.0"/>
<text x="32" y="470.6" font-size="9.5" text-anchor="end" fill="#4D4D4D" font-weight="normal" stroke="#4D4D4D" stroke-width="0.2">0.25</text>
<line x1="34.8" y1="420.3" x2="38" y2="420.3" stroke="#333333" stroke-width="1.0"/>
<text x="32" y="424.7" font-size="9.5" text-anchor="end" fill="#4D4D4D" font-weight="normal" stroke="#4D4D4D" stroke-width="0.2">0.50</text>
<line x1="34.8" y1="374.4" x2="38" y2="374.4" stroke="#333333" stroke-width="1.0"/>
<text x="32" y="378.8" font-size="9.5" text-anchor="end" fill="#4D4D4D" font-weight="normal" stroke="#4D4D4D" stroke-width="0.2">0.75</text>
<line x1="34.8" y1="328.5" x2="38" y2="328.5" stroke="#333333" stroke-width="1.0"/>
<text x="32" y="332.9" font-size="9.5" text-anchor="end" fill="#4D4D4D" font-weight="normal" stroke="#4D4D4D" stroke-width="0.2">1.00</text>
<text transform="translate(6.8 405.7) rotate(-90)" x="0" y="0" font-size="9.3" text-anchor="middle" fill="#000" stroke="#000" stroke-width="0.15" textLength="37.8" lengthAdjust="spacingAndGlyphs">AU–ROC</text>
<text x="177.7" y="516" font-size="9.3" text-anchor="middle" fill="#000" stroke="#000" stroke-width="0.15" textLength="107.7" lengthAdjust="spacingAndGlyphs">Single–dose inhibition (%)</text>
</svg>
</body></html>
